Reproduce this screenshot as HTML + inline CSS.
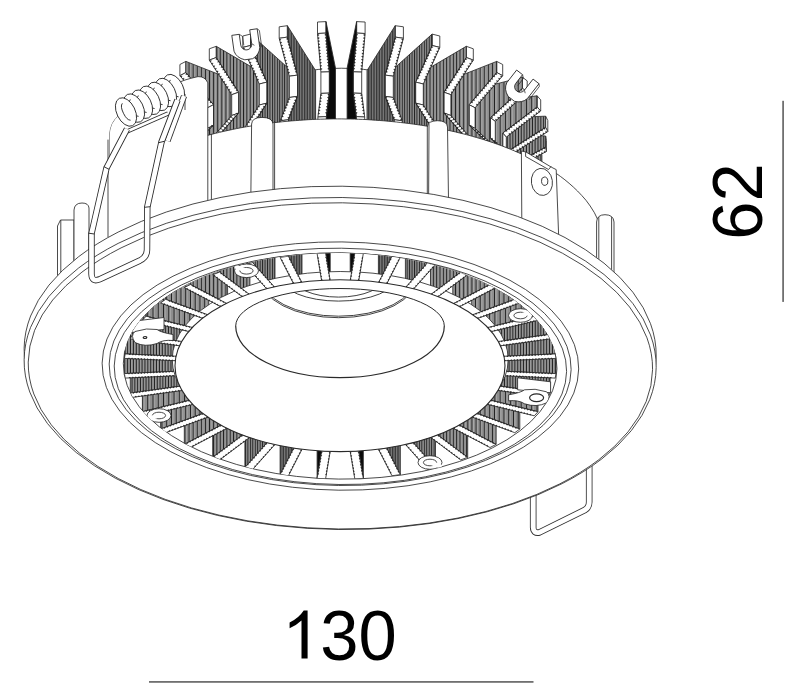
<!DOCTYPE html>
<html><head><meta charset="utf-8"><title>Downlight 130x62</title>
<style>html,body{margin:0;padding:0;background:#fff}svg{display:block}</style></head>
<body><svg width="800" height="693" viewBox="0 0 800 693" font-family="Liberation Sans, sans-serif">
<rect width="800" height="693" fill="#fff"/>
<defs>
<pattern id="h0" patternUnits="userSpaceOnUse" width="2.80" height="8"><rect width="2.80" height="8" fill="#8e8e8e"/><rect x="1.05" width="0.70" height="8" fill="#b2b2b2"/><rect width="1.05" height="8" fill="#202020"/></pattern>
<pattern id="h1" patternUnits="userSpaceOnUse" width="2.89" height="8"><rect width="2.89" height="8" fill="#8e8e8e"/><rect x="1.05" width="0.74" height="8" fill="#b2b2b2"/><rect width="1.05" height="8" fill="#202020"/></pattern>
<pattern id="h2" patternUnits="userSpaceOnUse" width="5.26" height="8"><rect width="5.26" height="8" fill="#8e8e8e"/><rect x="1.05" width="1.30" height="8" fill="#b2b2b2"/><rect width="1.05" height="8" fill="#202020"/></pattern>
<pattern id="h3" patternUnits="userSpaceOnUse" width="4.75" height="8"><rect width="4.75" height="8" fill="#8e8e8e"/><rect x="1.05" width="1.30" height="8" fill="#b2b2b2"/><rect width="1.05" height="8" fill="#202020"/></pattern>
<pattern id="h4" patternUnits="userSpaceOnUse" width="4.10" height="8"><rect width="4.10" height="8" fill="#8e8e8e"/><rect x="1.05" width="1.22" height="8" fill="#b2b2b2"/><rect width="1.05" height="8" fill="#202020"/></pattern>
<pattern id="h5" patternUnits="userSpaceOnUse" width="3.33" height="8"><rect width="3.33" height="8" fill="#8e8e8e"/><rect x="1.05" width="0.91" height="8" fill="#b2b2b2"/><rect width="1.05" height="8" fill="#202020"/></pattern>
<pattern id="h6" patternUnits="userSpaceOnUse" width="2.45" height="8"><rect width="2.45" height="8" fill="#8e8e8e"/><rect x="1.05" width="0.56" height="8" fill="#b2b2b2"/><rect width="1.05" height="8" fill="#202020"/></pattern>
<pattern id="h7" patternUnits="userSpaceOnUse" width="1.60" height="8"><rect width="1.60" height="8" fill="#808080"/><rect width="0.67" height="8" fill="#202020"/></pattern>
<clipPath id="apert"><ellipse cx="340.15" cy="366.05" rx="216.85" ry="113.05" transform="rotate(0.7 340.15 366.05)"/></clipPath>
<clipPath id="gclip"><ellipse cx="340.00" cy="365.70" rx="164.70" ry="85.60"/></clipPath>
<clipPath id="hclip"><path d="M235.7 326 A104.3 37.5 0 0 1 444.3 326 A104.3 51.7 0 0 1 235.7 326Z"/></clipPath>
</defs>
<g id="heatsink">
<path d="M226.3 200 L226.3 128.3 A115.0 60.1 0 0 1 456.3 128.3 L456.3 200Z" fill="#fff" stroke="none"/>
<path d="M226.3 128.3 A115.0 60.1 0 0 1 456.3 128.3" fill="none" stroke="#2a2a2a" stroke-width="0.85"/>
<path d="M534.6 183.4 L501.2 196.3 L499.0 200.6 L532.4 187.7Z" fill="#fff" stroke="#2a2a2a" stroke-width="0.85" stroke-linejoin="round" />
<path d="M453.5 151.2 L534.6 172.4 L534.6 183.4 L501.2 196.3 L501.2 216.8 L531.2 255.7 L531.2 288.1 L453.5 277.2Z" fill="url(#h0)" stroke="#2a2a2a" stroke-width="0.85" stroke-linejoin="round" />
<path d="M533.9 183.7 L533.7 185.4 L532.4 184.3ZM531.0 184.8 L530.8 186.5 L529.6 185.4ZM528.1 186.0 L527.9 187.6 L526.7 186.5ZM525.2 187.1 L525.0 188.7 L523.8 187.6ZM522.3 188.2 L522.1 189.9 L520.9 188.7ZM519.4 189.3 L519.2 191.0 L518.0 189.9ZM516.5 190.4 L516.4 192.1 L515.1 191.0ZM513.6 191.5 L513.5 193.2 L512.2 192.1ZM510.8 192.6 L510.6 194.3 L509.3 193.2ZM507.9 193.8 L507.7 195.4 L506.4 194.3ZM505.0 194.9 L504.8 196.6 L503.5 195.4Z" fill="#222" stroke="#222" stroke-width="0.4"/>
<path d="M531.7 188.0 L530.4 186.9 L530.2 188.6ZM528.8 189.1 L527.5 188.0 L527.4 189.7ZM525.9 190.2 L524.6 189.1 L524.5 190.8ZM523.0 191.4 L521.8 190.2 L521.6 191.9ZM520.1 192.5 L518.9 191.4 L518.7 193.0ZM517.2 193.6 L516.0 192.5 L515.8 194.2ZM514.3 194.7 L513.1 193.6 L512.9 195.3ZM511.4 195.8 L510.2 194.7 L510.0 196.4ZM508.6 196.9 L507.3 195.8 L507.1 197.5ZM505.7 198.1 L504.4 196.9 L504.2 198.6ZM502.8 199.2 L501.5 198.0 L501.3 199.7Z" fill="#222" stroke="#222" stroke-width="0.4"/>
<path d="M541.9 165.6 L507.0 181.6 L506.3 186.0 L541.2 170.0Z" fill="#fff" stroke="#2a2a2a" stroke-width="0.85" stroke-linejoin="round" />
<path d="M456.2 140.8 L541.9 154.6 L541.9 165.6 L507.0 181.6 L507.0 202.0 L538.3 238.2 L538.3 270.5 L456.2 266.8Z" fill="url(#h1)" stroke="#2a2a2a" stroke-width="0.85" stroke-linejoin="round" />
<path d="M541.2 165.9 L541.1 167.6 L539.8 166.6ZM538.4 167.2 L538.3 168.9 L537.0 167.9ZM535.6 168.5 L535.5 170.2 L534.2 169.2ZM532.7 169.8 L532.7 171.5 L531.3 170.5ZM529.9 171.1 L529.9 172.8 L528.5 171.7ZM527.1 172.4 L527.0 174.1 L525.7 173.0ZM524.3 173.7 L524.2 175.4 L522.9 174.3ZM521.5 175.0 L521.4 176.7 L520.1 175.6ZM518.7 176.3 L518.6 178.0 L517.3 176.9ZM515.8 177.6 L515.8 179.2 L514.4 178.2ZM513.0 178.9 L512.9 180.5 L511.6 179.5ZM510.2 180.1 L510.1 181.8 L508.8 180.8Z" fill="#222" stroke="#222" stroke-width="0.4"/>
<path d="M540.5 170.4 L539.1 169.3 L539.1 171.0ZM537.6 171.6 L536.3 170.6 L536.2 172.3ZM534.8 172.9 L533.5 171.9 L533.4 173.6ZM532.0 174.2 L530.7 173.2 L530.6 174.9ZM529.2 175.5 L527.9 174.5 L527.8 176.2ZM526.4 176.8 L525.0 175.8 L525.0 177.5ZM523.6 178.1 L522.2 177.1 L522.1 178.8ZM520.7 179.4 L519.4 178.4 L519.3 180.0ZM517.9 180.7 L516.6 179.7 L516.5 181.3ZM515.1 182.0 L513.8 180.9 L513.7 182.6ZM512.3 183.3 L511.0 182.2 L510.9 183.9ZM509.5 184.6 L508.1 183.5 L508.1 185.2Z" fill="#222" stroke="#222" stroke-width="0.4"/>
<path d="M545.6 136.0 L545.6 147.1 L546.4 151.5 L546.4 140.5Z" fill="#fff" stroke="#2a2a2a" stroke-width="0.85" stroke-linejoin="round" />
<path d="M545.6 147.1 L510.0 166.3 L510.7 170.7 L546.4 151.5Z" fill="#fff" stroke="#2a2a2a" stroke-width="0.85" stroke-linejoin="round" />
<path d="M510.0 166.3 L510.0 186.7 L510.7 191.2 L510.7 170.7Z" fill="#fff" stroke="#2a2a2a" stroke-width="0.85" stroke-linejoin="round" />
<path d="M542.0 220.0 L542.0 252.3 L542.7 256.8 L542.7 224.4Z" fill="#fff" stroke="#2a2a2a" stroke-width="0.85" stroke-linejoin="round" />
<path d="M455.5 130.3 L545.6 136.0 L545.6 147.1 L510.0 166.3 L510.0 186.7 L542.0 220.0 L542.0 252.3 L455.5 256.3Z" fill="url(#h1)" stroke="#2a2a2a" stroke-width="0.85" stroke-linejoin="round" />
<path d="M545.0 147.4 L545.0 149.1 L543.6 148.2ZM542.2 148.9 L542.3 150.6 L540.9 149.7ZM539.5 150.4 L539.5 152.1 L538.1 151.1ZM536.8 151.9 L536.8 153.5 L535.4 152.6ZM534.1 153.3 L534.1 155.0 L532.7 154.1ZM531.3 154.8 L531.4 156.5 L530.0 155.5ZM528.6 156.3 L528.6 158.0 L527.2 157.0ZM525.9 157.7 L525.9 159.4 L524.5 158.5ZM523.1 159.2 L523.2 160.9 L521.8 159.9ZM520.4 160.7 L520.4 162.4 L519.0 161.4ZM517.7 162.2 L517.7 163.8 L516.3 162.9ZM514.9 163.6 L515.0 165.3 L513.6 164.4ZM512.2 165.1 L512.3 166.8 L510.9 165.8Z" fill="#222" stroke="#222" stroke-width="0.4"/>
<path d="M545.7 151.9 L544.3 150.9 L544.3 152.6ZM543.0 153.3 L541.6 152.4 L541.6 154.1ZM540.2 154.8 L538.9 153.9 L538.9 155.5ZM537.5 156.3 L536.1 155.3 L536.2 157.0ZM534.8 157.8 L533.4 156.8 L533.4 158.5ZM532.1 159.2 L530.7 158.3 L530.7 160.0ZM529.3 160.7 L527.9 159.7 L528.0 161.4ZM526.6 162.2 L525.2 161.2 L525.2 162.9ZM523.9 163.6 L522.5 162.7 L522.5 164.4ZM521.1 165.1 L519.8 164.2 L519.8 165.8ZM518.4 166.6 L517.0 165.6 L517.1 167.3ZM515.7 168.1 L514.3 167.1 L514.3 168.8ZM513.0 169.5 L511.6 168.6 L511.6 170.3Z" fill="#222" stroke="#222" stroke-width="0.4"/>
<path d="M545.6 116.2 L545.6 127.3 L547.8 131.6 L547.8 120.5Z" fill="#fff" stroke="#2a2a2a" stroke-width="0.85" stroke-linejoin="round" />
<path d="M545.6 127.3 L509.8 149.9 L512.0 154.2 L547.8 131.6Z" fill="#fff" stroke="#2a2a2a" stroke-width="0.85" stroke-linejoin="round" />
<path d="M509.8 149.9 L509.8 170.4 L512.0 174.7 L512.0 154.2Z" fill="#fff" stroke="#2a2a2a" stroke-width="0.85" stroke-linejoin="round" />
<path d="M541.9 201.0 L541.9 233.3 L544.1 237.6 L544.1 205.3Z" fill="#fff" stroke="#2a2a2a" stroke-width="0.85" stroke-linejoin="round" />
<path d="M451.3 119.6 L545.6 116.2 L545.6 127.3 L509.8 149.9 L509.8 170.4 L541.9 201.0 L541.9 233.3 L451.3 246.0Z" fill="url(#h0)" stroke="#2a2a2a" stroke-width="0.85" stroke-linejoin="round" />
<path d="M544.9 127.7 L545.0 129.4 L543.6 128.5ZM542.3 129.4 L542.4 131.1 L541.0 130.2ZM539.7 131.0 L539.8 132.7 L538.4 131.9ZM537.0 132.7 L537.2 134.4 L535.7 133.5ZM534.4 134.3 L534.6 136.0 L533.1 135.2ZM531.8 136.0 L532.0 137.7 L530.5 136.8ZM529.2 137.7 L529.3 139.3 L527.9 138.5ZM526.6 139.3 L526.7 141.0 L525.3 140.2ZM523.9 141.0 L524.1 142.7 L522.6 141.8ZM521.3 142.6 L521.5 144.3 L520.0 143.5ZM518.7 144.3 L518.9 146.0 L517.4 145.1ZM516.1 146.0 L516.2 147.6 L514.8 146.8ZM513.5 147.6 L513.6 149.3 L512.2 148.4Z" fill="#222" stroke="#222" stroke-width="0.4"/>
<path d="M547.1 132.0 L545.6 131.2 L545.8 132.8ZM544.5 133.7 L543.0 132.8 L543.2 134.5ZM541.9 135.3 L540.4 134.5 L540.6 136.2ZM539.2 137.0 L537.8 136.1 L537.9 137.8ZM536.6 138.6 L535.2 137.8 L535.3 139.5ZM534.0 140.3 L532.5 139.4 L532.7 141.1ZM531.4 142.0 L529.9 141.1 L530.1 142.8ZM528.8 143.6 L527.3 142.8 L527.5 144.4ZM526.1 145.3 L524.7 144.4 L524.8 146.1ZM523.5 146.9 L522.1 146.1 L522.2 147.8ZM520.9 148.6 L519.5 147.7 L519.6 149.4ZM518.3 150.2 L516.8 149.4 L517.0 151.1ZM515.7 151.9 L514.2 151.1 L514.4 152.7Z" fill="#222" stroke="#222" stroke-width="0.4"/>
<path d="M537.1 95.8 L537.1 106.9 L540.7 111.0 L540.7 99.9Z" fill="#fff" stroke="#2a2a2a" stroke-width="0.85" stroke-linejoin="round" />
<path d="M537.1 106.9 L502.7 133.0 L506.3 137.1 L540.7 111.0Z" fill="#fff" stroke="#2a2a2a" stroke-width="0.85" stroke-linejoin="round" />
<path d="M502.7 133.0 L502.7 153.6 L506.3 157.7 L506.3 137.1Z" fill="#fff" stroke="#2a2a2a" stroke-width="0.85" stroke-linejoin="round" />
<path d="M533.6 182.0 L533.6 214.4 L537.1 218.5 L537.1 186.1Z" fill="#fff" stroke="#2a2a2a" stroke-width="0.85" stroke-linejoin="round" />
<path d="M443.7 108.7 L537.1 95.8 L537.1 106.9 L502.7 133.0 L502.7 153.6 L533.6 182.0 L533.6 214.4 L443.7 236.3Z" fill="url(#h2)" stroke="#2a2a2a" stroke-width="0.85" stroke-linejoin="round" />
<path d="M536.5 107.4 L536.8 109.1 L535.2 108.4ZM534.0 109.3 L534.3 111.0 L532.8 110.2ZM531.5 111.2 L531.8 112.8 L530.3 112.1ZM529.1 113.0 L529.3 114.7 L527.8 114.0ZM526.6 114.9 L526.9 116.6 L525.3 115.8ZM524.1 116.8 L524.4 118.4 L522.9 117.7ZM521.6 118.7 L521.9 120.3 L520.4 119.6ZM519.2 120.5 L519.5 122.2 L517.9 121.5ZM516.7 122.4 L517.0 124.1 L515.5 123.3ZM514.2 124.3 L514.5 125.9 L513.0 125.2ZM511.8 126.2 L512.1 127.8 L510.5 127.1ZM509.3 128.0 L509.6 129.7 L508.1 129.0ZM506.8 129.9 L507.1 131.6 L505.6 130.8Z" fill="#222" stroke="#222" stroke-width="0.4"/>
<path d="M540.1 111.4 L538.5 110.7 L538.8 112.4ZM537.6 113.3 L536.1 112.6 L536.3 114.3ZM535.1 115.2 L533.6 114.5 L533.9 116.1ZM532.6 117.1 L531.1 116.3 L531.4 118.0ZM530.2 118.9 L528.7 118.2 L528.9 119.9ZM527.7 120.8 L526.2 120.1 L526.5 121.8ZM525.2 122.7 L523.7 122.0 L524.0 123.6ZM522.8 124.6 L521.2 123.8 L521.5 125.5ZM520.3 126.4 L518.8 125.7 L519.1 127.4ZM517.8 128.3 L516.3 127.6 L516.6 129.2ZM515.4 130.2 L513.8 129.5 L514.1 131.1ZM512.9 132.1 L511.4 131.3 L511.7 133.0ZM510.4 133.9 L508.9 133.2 L509.2 134.9Z" fill="#222" stroke="#222" stroke-width="0.4"/>
<path d="M522.4 77.2 L522.4 88.3 L527.2 92.0 L527.2 80.9Z" fill="#fff" stroke="#2a2a2a" stroke-width="0.85" stroke-linejoin="round" />
<path d="M522.4 88.3 L490.4 117.7 L495.3 121.4 L527.2 92.0Z" fill="#fff" stroke="#2a2a2a" stroke-width="0.85" stroke-linejoin="round" />
<path d="M490.4 117.7 L490.4 138.3 L495.3 142.0 L495.3 121.4Z" fill="#fff" stroke="#2a2a2a" stroke-width="0.85" stroke-linejoin="round" />
<path d="M490.4 138.3 L519.1 163.6 L524.0 167.2 L495.3 142.0Z" fill="#fff" stroke="#2a2a2a" stroke-width="0.85" stroke-linejoin="round" />
<path d="M519.1 163.6 L519.1 195.9 L524.0 199.6 L524.0 167.2Z" fill="#fff" stroke="#2a2a2a" stroke-width="0.85" stroke-linejoin="round" />
<path d="M433.1 100.1 L522.4 77.2 L522.4 88.3 L490.4 117.7 L490.4 138.3 L519.1 163.6 L519.1 195.9 L433.1 227.4Z" fill="url(#h3)" stroke="#2a2a2a" stroke-width="0.85" stroke-linejoin="round" />
<path d="M521.8 88.9 L522.2 90.5 L520.6 89.9ZM519.5 91.0 L519.9 92.6 L518.4 92.0ZM517.2 93.1 L517.7 94.7 L516.1 94.1ZM514.9 95.2 L515.4 96.8 L513.8 96.2ZM512.7 97.3 L513.1 98.9 L511.5 98.3ZM510.4 99.4 L510.8 101.0 L509.2 100.4ZM508.1 101.5 L508.5 103.1 L507.0 102.5ZM505.8 103.6 L506.3 105.2 L504.7 104.6ZM503.5 105.7 L504.0 107.3 L502.4 106.7ZM501.3 107.8 L501.7 109.4 L500.1 108.8ZM499.0 109.9 L499.4 111.5 L497.8 110.9ZM496.7 112.0 L497.1 113.6 L495.5 113.0ZM494.4 114.1 L494.9 115.7 L493.3 115.1ZM492.1 116.2 L492.6 117.8 L491.0 117.2Z" fill="#222" stroke="#222" stroke-width="0.4"/>
<path d="M526.7 92.5 L525.1 91.9 L525.5 93.6ZM524.4 94.6 L522.8 94.0 L523.2 95.7ZM522.1 96.7 L520.5 96.1 L521.0 97.8ZM519.8 98.8 L518.2 98.2 L518.7 99.9ZM517.5 100.9 L515.9 100.3 L516.4 102.0ZM515.3 103.0 L513.7 102.4 L514.1 104.1ZM513.0 105.1 L511.4 104.5 L511.8 106.2ZM510.7 107.2 L509.1 106.6 L509.5 108.3ZM508.4 109.3 L506.8 108.7 L507.3 110.4ZM506.1 111.4 L504.5 110.8 L505.0 112.5ZM503.8 113.5 L502.3 112.9 L502.7 114.6ZM501.6 115.6 L500.0 115.0 L500.4 116.6ZM499.3 117.7 L497.7 117.1 L498.1 118.7ZM497.0 119.8 L495.4 119.2 L495.9 120.8Z" fill="#222" stroke="#222" stroke-width="0.4"/>
<path d="M491.0 138.8 L492.6 138.2 L492.2 139.9ZM493.3 140.9 L494.9 140.3 L494.5 141.9ZM495.6 142.9 L497.2 142.3 L496.8 143.9ZM498.0 145.0 L499.5 144.4 L499.1 146.0ZM500.3 147.0 L501.9 146.4 L501.5 148.0ZM502.6 149.1 L504.2 148.5 L503.8 150.1ZM504.9 151.1 L506.5 150.5 L506.1 152.1ZM507.3 153.2 L508.8 152.6 L508.4 154.2ZM509.6 155.2 L511.2 154.6 L510.8 156.2ZM511.9 157.3 L513.5 156.7 L513.1 158.3ZM514.3 159.3 L515.8 158.7 L515.4 160.3ZM516.6 161.4 L518.1 160.8 L517.7 162.4Z" fill="#222" stroke="#222" stroke-width="0.4"/>
<path d="M495.9 142.5 L495.5 144.1 L497.0 143.5ZM498.2 144.5 L497.8 146.2 L499.4 145.5ZM500.5 146.6 L500.1 148.2 L501.7 147.6ZM502.8 148.6 L502.4 150.3 L504.0 149.6ZM505.2 150.7 L504.8 152.3 L506.3 151.7ZM507.5 152.7 L507.1 154.4 L508.7 153.7ZM509.8 154.8 L509.4 156.4 L511.0 155.8ZM512.1 156.8 L511.7 158.4 L513.3 157.8ZM514.5 158.9 L514.1 160.5 L515.6 159.9ZM516.8 160.9 L516.4 162.5 L518.0 161.9ZM519.1 163.0 L518.7 164.6 L520.3 164.0ZM521.5 165.0 L521.0 166.6 L522.6 166.0Z" fill="#222" stroke="#222" stroke-width="0.4"/>
<g transform="translate(518.5 88.0) rotate(38)">
<path d="M-12.5 -13 L-5 -13 L-5 -2 A5.5 5.5 0 0 0 6 -2 L6 -16 L13.5 -16 L13.5 3 Q12 10 5 13 L-3 13 Q-11 10 -12.5 3 Z" fill="#fff" stroke="#2a2a2a" stroke-width="0.85" stroke-linejoin="round"/>
<path d="M-5 -13 l3 2.5 l0 9 M6 -2 l2.5 2 M13.5 -16 l2 2 l0 17" fill="none" stroke="#2a2a2a" stroke-width="0.7"/>
</g>
<path d="M185.9 61.4 L185.9 72.5 L179.9 75.7 L179.9 64.5Z" fill="#fff" stroke="#2a2a2a" stroke-width="0.85" stroke-linejoin="round" />
<path d="M185.9 72.5 L213.5 104.7 L207.5 107.8 L179.9 75.7Z" fill="#fff" stroke="#2a2a2a" stroke-width="0.85" stroke-linejoin="round" />
<path d="M213.5 104.7 L213.5 125.3 L207.5 128.4 L207.5 107.8Z" fill="#fff" stroke="#2a2a2a" stroke-width="0.85" stroke-linejoin="round" />
<path d="M213.5 125.3 L188.7 148.5 L182.7 151.6 L207.5 128.4Z" fill="#fff" stroke="#2a2a2a" stroke-width="0.85" stroke-linejoin="round" />
<path d="M188.7 148.5 L188.7 180.8 L182.7 184.0 L182.7 151.6Z" fill="#fff" stroke="#2a2a2a" stroke-width="0.85" stroke-linejoin="round" />
<path d="M263.0 91.8 L185.9 61.4 L185.9 72.5 L213.5 104.7 L213.5 125.3 L188.7 148.5 L188.7 180.8 L263.0 219.7Z" fill="url(#h4)" stroke="#2a2a2a" stroke-width="0.85" stroke-linejoin="round" />
<path d="M186.4 73.1 L185.8 74.7 L187.4 74.3ZM188.4 75.5 L187.8 77.0 L189.4 76.6ZM190.5 77.8 L189.8 79.4 L191.5 79.0ZM192.5 80.2 L191.8 81.7 L193.5 81.3ZM194.5 82.5 L193.9 84.1 L195.5 83.7ZM196.5 84.9 L195.9 86.4 L197.5 86.0ZM198.5 87.2 L197.9 88.8 L199.5 88.4ZM200.5 89.6 L199.9 91.1 L201.6 90.8ZM202.6 91.9 L201.9 93.5 L203.6 93.1ZM204.6 94.3 L203.9 95.8 L205.6 95.5ZM206.6 96.6 L206.0 98.2 L207.6 97.8ZM208.6 99.0 L208.0 100.6 L209.6 100.2ZM210.6 101.3 L210.0 102.9 L211.6 102.5Z" fill="#222" stroke="#222" stroke-width="0.4"/>
<path d="M180.4 76.3 L182.1 75.9 L181.4 77.4ZM182.4 78.6 L184.1 78.2 L183.4 79.8ZM184.4 81.0 L186.1 80.6 L185.5 82.1ZM186.5 83.3 L188.1 82.9 L187.5 84.5ZM188.5 85.7 L190.1 85.3 L189.5 86.8ZM190.5 88.0 L192.1 87.6 L191.5 89.2ZM192.5 90.4 L194.2 90.0 L193.5 91.5ZM194.5 92.7 L196.2 92.3 L195.5 93.9ZM196.6 95.1 L198.2 94.7 L197.6 96.3ZM198.6 97.4 L200.2 97.0 L199.6 98.6ZM200.6 99.8 L202.2 99.4 L201.6 101.0ZM202.6 102.1 L204.2 101.7 L203.6 103.3ZM204.6 104.5 L206.3 104.1 L205.6 105.7Z" fill="#222" stroke="#222" stroke-width="0.4"/>
<path d="M212.9 125.8 L211.3 125.3 L211.8 126.9ZM210.7 127.9 L209.1 127.4 L209.5 129.0ZM208.4 130.1 L206.8 129.5 L207.3 131.1ZM206.1 132.2 L204.5 131.6 L205.0 133.2ZM203.9 134.3 L202.3 133.7 L202.7 135.4ZM201.6 136.4 L200.0 135.8 L200.5 137.5ZM199.3 138.5 L197.8 138.0 L198.2 139.6ZM197.1 140.6 L195.5 140.1 L195.9 141.7ZM194.8 142.8 L193.2 142.2 L193.7 143.8ZM192.6 144.9 L191.0 144.3 L191.4 145.9Z" fill="#222" stroke="#222" stroke-width="0.4"/>
<path d="M206.9 129.0 L207.4 130.6 L205.8 130.0ZM204.7 131.1 L205.1 132.7 L203.5 132.1ZM202.4 133.2 L202.8 134.8 L201.3 134.3ZM200.1 135.3 L200.6 136.9 L199.0 136.4ZM197.9 137.4 L198.3 139.1 L196.7 138.5ZM195.6 139.6 L196.1 141.2 L194.5 140.6ZM193.3 141.7 L193.8 143.3 L192.2 142.7ZM191.1 143.8 L191.5 145.4 L189.9 144.9ZM188.8 145.9 L189.3 147.5 L187.7 147.0ZM186.5 148.0 L187.0 149.7 L185.4 149.1Z" fill="#222" stroke="#222" stroke-width="0.4"/>
<path d="M496.7 61.4 L496.7 72.5 L502.7 75.7 L502.7 64.5Z" fill="#fff" stroke="#2a2a2a" stroke-width="0.85" stroke-linejoin="round" />
<path d="M496.7 72.5 L469.1 104.7 L475.1 107.8 L502.7 75.7Z" fill="#fff" stroke="#2a2a2a" stroke-width="0.85" stroke-linejoin="round" />
<path d="M469.1 104.7 L469.1 125.3 L475.1 128.4 L475.1 107.8Z" fill="#fff" stroke="#2a2a2a" stroke-width="0.85" stroke-linejoin="round" />
<path d="M469.1 125.3 L493.9 148.5 L499.9 151.6 L475.1 128.4Z" fill="#fff" stroke="#2a2a2a" stroke-width="0.85" stroke-linejoin="round" />
<path d="M493.9 148.5 L493.9 180.8 L499.9 184.0 L499.9 151.6Z" fill="#fff" stroke="#2a2a2a" stroke-width="0.85" stroke-linejoin="round" />
<path d="M419.6 91.8 L496.7 61.4 L496.7 72.5 L469.1 104.7 L469.1 125.3 L493.9 148.5 L493.9 180.8 L419.6 219.7Z" fill="url(#h4)" stroke="#2a2a2a" stroke-width="0.85" stroke-linejoin="round" />
<path d="M496.2 73.1 L496.8 74.7 L495.2 74.3ZM494.2 75.5 L494.8 77.0 L493.2 76.6ZM492.1 77.8 L492.8 79.4 L491.1 79.0ZM490.1 80.2 L490.8 81.7 L489.1 81.3ZM488.1 82.5 L488.7 84.1 L487.1 83.7ZM486.1 84.9 L486.7 86.4 L485.1 86.0ZM484.1 87.2 L484.7 88.8 L483.1 88.4ZM482.1 89.6 L482.7 91.1 L481.0 90.8ZM480.0 91.9 L480.7 93.5 L479.0 93.1ZM478.0 94.3 L478.7 95.8 L477.0 95.5ZM476.0 96.6 L476.6 98.2 L475.0 97.8ZM474.0 99.0 L474.6 100.6 L473.0 100.2ZM472.0 101.3 L472.6 102.9 L471.0 102.5Z" fill="#222" stroke="#222" stroke-width="0.4"/>
<path d="M502.2 76.3 L500.5 75.9 L501.2 77.4ZM500.2 78.6 L498.5 78.2 L499.2 79.8ZM498.2 81.0 L496.5 80.6 L497.1 82.1ZM496.1 83.3 L494.5 82.9 L495.1 84.5ZM494.1 85.7 L492.5 85.3 L493.1 86.8ZM492.1 88.0 L490.5 87.6 L491.1 89.2ZM490.1 90.4 L488.4 90.0 L489.1 91.5ZM488.1 92.7 L486.4 92.3 L487.1 93.9ZM486.0 95.1 L484.4 94.7 L485.0 96.3ZM484.0 97.4 L482.4 97.0 L483.0 98.6ZM482.0 99.8 L480.4 99.4 L481.0 101.0ZM480.0 102.1 L478.4 101.7 L479.0 103.3ZM478.0 104.5 L476.3 104.1 L477.0 105.7Z" fill="#222" stroke="#222" stroke-width="0.4"/>
<path d="M469.7 125.8 L471.3 125.3 L470.8 126.9ZM471.9 127.9 L473.5 127.4 L473.1 129.0ZM474.2 130.1 L475.8 129.5 L475.3 131.1ZM476.5 132.2 L478.1 131.6 L477.6 133.2ZM478.7 134.3 L480.3 133.7 L479.9 135.4ZM481.0 136.4 L482.6 135.8 L482.1 137.5ZM483.3 138.5 L484.8 138.0 L484.4 139.6ZM485.5 140.6 L487.1 140.1 L486.7 141.7ZM487.8 142.8 L489.4 142.2 L488.9 143.8ZM490.0 144.9 L491.6 144.3 L491.2 145.9Z" fill="#222" stroke="#222" stroke-width="0.4"/>
<path d="M475.7 129.0 L475.2 130.6 L476.8 130.0ZM477.9 131.1 L477.5 132.7 L479.1 132.1ZM480.2 133.2 L479.8 134.8 L481.3 134.3ZM482.5 135.3 L482.0 136.9 L483.6 136.4ZM484.7 137.4 L484.3 139.1 L485.9 138.5ZM487.0 139.6 L486.5 141.2 L488.1 140.6ZM489.3 141.7 L488.8 143.3 L490.4 142.7ZM491.5 143.8 L491.1 145.4 L492.7 144.9ZM493.8 145.9 L493.3 147.5 L494.9 147.0ZM496.1 148.0 L495.6 149.7 L497.2 149.1Z" fill="#222" stroke="#222" stroke-width="0.4"/>
<path d="M216.3 46.3 L216.3 57.5 L209.3 60.1 L209.3 48.8Z" fill="#fff" stroke="#2a2a2a" stroke-width="0.85" stroke-linejoin="round" />
<path d="M216.3 57.5 L238.7 92.2 L231.7 94.7 L209.3 60.1Z" fill="#fff" stroke="#2a2a2a" stroke-width="0.85" stroke-linejoin="round" />
<path d="M238.7 92.2 L238.7 113.0 L231.7 115.5 L231.7 94.7Z" fill="#fff" stroke="#2a2a2a" stroke-width="0.85" stroke-linejoin="round" />
<path d="M238.7 113.0 L218.6 135.9 L211.6 138.4 L231.7 115.5Z" fill="#fff" stroke="#2a2a2a" stroke-width="0.85" stroke-linejoin="round" />
<path d="M218.6 135.9 L218.6 168.2 L211.6 170.8 L211.6 138.4Z" fill="#fff" stroke="#2a2a2a" stroke-width="0.85" stroke-linejoin="round" />
<path d="M278.8 83.0 L216.3 46.3 L216.3 57.5 L238.7 92.2 L238.7 113.0 L218.6 135.9 L218.6 168.2 L278.8 213.2Z" fill="url(#h5)" stroke="#2a2a2a" stroke-width="0.85" stroke-linejoin="round" />
<path d="M216.7 58.2 L215.9 59.6 L217.6 59.5ZM218.4 60.8 L217.6 62.2 L219.2 62.1ZM220.1 63.4 L219.2 64.9 L220.9 64.7ZM221.8 66.0 L220.9 67.5 L222.6 67.3ZM223.4 68.6 L222.6 70.1 L224.3 69.9ZM225.1 71.2 L224.3 72.7 L226.0 72.5ZM226.8 73.8 L226.0 75.3 L227.7 75.1ZM228.5 76.4 L227.7 77.9 L229.3 77.7ZM230.2 79.0 L229.3 80.5 L231.0 80.3ZM231.9 81.6 L231.0 83.1 L232.7 82.9ZM233.5 84.2 L232.7 85.7 L234.4 85.5ZM235.2 86.8 L234.4 88.3 L236.1 88.1ZM236.9 89.4 L236.1 90.9 L237.7 90.7Z" fill="#222" stroke="#222" stroke-width="0.4"/>
<path d="M209.8 60.7 L211.4 60.6 L210.6 62.0ZM211.4 63.3 L213.1 63.2 L212.3 64.6ZM213.1 65.9 L214.8 65.8 L214.0 67.2ZM214.8 68.5 L216.5 68.4 L215.6 69.8ZM216.5 71.1 L218.2 71.0 L217.3 72.4ZM218.2 73.7 L219.8 73.6 L219.0 75.1ZM219.9 76.4 L221.5 76.2 L220.7 77.7ZM221.5 79.0 L223.2 78.8 L222.4 80.3ZM223.2 81.6 L224.9 81.4 L224.1 82.9ZM224.9 84.2 L226.6 84.0 L225.7 85.5ZM226.6 86.8 L228.3 86.6 L227.4 88.1ZM228.3 89.4 L229.9 89.2 L229.1 90.7ZM229.9 92.0 L231.6 91.8 L230.8 93.3Z" fill="#222" stroke="#222" stroke-width="0.4"/>
<path d="M238.2 113.6 L236.5 113.2 L237.1 114.7ZM236.1 115.9 L234.5 115.5 L235.1 117.1ZM234.1 118.2 L232.4 117.8 L233.0 119.4ZM232.0 120.6 L230.4 120.1 L231.0 121.7ZM230.0 122.9 L228.3 122.5 L229.0 124.1ZM227.9 125.2 L226.3 124.8 L226.9 126.4ZM225.9 127.5 L224.3 127.1 L224.9 128.7ZM223.8 129.9 L222.2 129.5 L222.8 131.0ZM221.8 132.2 L220.2 131.8 L220.8 133.4Z" fill="#222" stroke="#222" stroke-width="0.4"/>
<path d="M231.2 116.1 L231.8 117.7 L230.2 117.3ZM229.2 118.4 L229.8 120.0 L228.1 119.6ZM227.1 120.8 L227.7 122.3 L226.1 121.9ZM225.1 123.1 L225.7 124.7 L224.0 124.3ZM223.0 125.4 L223.6 127.0 L222.0 126.6ZM221.0 127.8 L221.6 129.3 L219.9 128.9ZM218.9 130.1 L219.5 131.7 L217.9 131.3ZM216.9 132.4 L217.5 134.0 L215.9 133.6ZM214.8 134.8 L215.5 136.3 L213.8 135.9Z" fill="#222" stroke="#222" stroke-width="0.4"/>
<path d="M466.3 46.3 L466.3 57.5 L473.3 60.1 L473.3 48.8Z" fill="#fff" stroke="#2a2a2a" stroke-width="0.85" stroke-linejoin="round" />
<path d="M466.3 57.5 L443.9 92.2 L450.9 94.7 L473.3 60.1Z" fill="#fff" stroke="#2a2a2a" stroke-width="0.85" stroke-linejoin="round" />
<path d="M443.9 92.2 L443.9 113.0 L450.9 115.5 L450.9 94.7Z" fill="#fff" stroke="#2a2a2a" stroke-width="0.85" stroke-linejoin="round" />
<path d="M443.9 113.0 L464.0 135.9 L471.0 138.4 L450.9 115.5Z" fill="#fff" stroke="#2a2a2a" stroke-width="0.85" stroke-linejoin="round" />
<path d="M464.0 135.9 L464.0 168.2 L471.0 170.8 L471.0 138.4Z" fill="#fff" stroke="#2a2a2a" stroke-width="0.85" stroke-linejoin="round" />
<path d="M403.8 83.0 L466.3 46.3 L466.3 57.5 L443.9 92.2 L443.9 113.0 L464.0 135.9 L464.0 168.2 L403.8 213.2Z" fill="url(#h5)" stroke="#2a2a2a" stroke-width="0.85" stroke-linejoin="round" />
<path d="M465.9 58.2 L466.7 59.6 L465.0 59.5ZM464.2 60.8 L465.0 62.2 L463.4 62.1ZM462.5 63.4 L463.4 64.9 L461.7 64.7ZM460.8 66.0 L461.7 67.5 L460.0 67.3ZM459.2 68.6 L460.0 70.1 L458.3 69.9ZM457.5 71.2 L458.3 72.7 L456.6 72.5ZM455.8 73.8 L456.6 75.3 L454.9 75.1ZM454.1 76.4 L454.9 77.9 L453.3 77.7ZM452.4 79.0 L453.3 80.5 L451.6 80.3ZM450.7 81.6 L451.6 83.1 L449.9 82.9ZM449.1 84.2 L449.9 85.7 L448.2 85.5ZM447.4 86.8 L448.2 88.3 L446.5 88.1ZM445.7 89.4 L446.5 90.9 L444.9 90.7Z" fill="#222" stroke="#222" stroke-width="0.4"/>
<path d="M472.8 60.7 L471.2 60.6 L472.0 62.0ZM471.2 63.3 L469.5 63.2 L470.3 64.6ZM469.5 65.9 L467.8 65.8 L468.6 67.2ZM467.8 68.5 L466.1 68.4 L467.0 69.8ZM466.1 71.1 L464.4 71.0 L465.3 72.4ZM464.4 73.7 L462.8 73.6 L463.6 75.1ZM462.7 76.4 L461.1 76.2 L461.9 77.7ZM461.1 79.0 L459.4 78.8 L460.2 80.3ZM459.4 81.6 L457.7 81.4 L458.5 82.9ZM457.7 84.2 L456.0 84.0 L456.9 85.5ZM456.0 86.8 L454.3 86.6 L455.2 88.1ZM454.3 89.4 L452.7 89.2 L453.5 90.7ZM452.7 92.0 L451.0 91.8 L451.8 93.3Z" fill="#222" stroke="#222" stroke-width="0.4"/>
<path d="M444.4 113.6 L446.1 113.2 L445.5 114.7ZM446.5 115.9 L448.1 115.5 L447.5 117.1ZM448.5 118.2 L450.2 117.8 L449.6 119.4ZM450.6 120.6 L452.2 120.1 L451.6 121.7ZM452.6 122.9 L454.3 122.5 L453.6 124.1ZM454.7 125.2 L456.3 124.8 L455.7 126.4ZM456.7 127.5 L458.3 127.1 L457.7 128.7ZM458.8 129.9 L460.4 129.5 L459.8 131.0ZM460.8 132.2 L462.4 131.8 L461.8 133.4Z" fill="#222" stroke="#222" stroke-width="0.4"/>
<path d="M451.4 116.1 L450.8 117.7 L452.4 117.3ZM453.4 118.4 L452.8 120.0 L454.5 119.6ZM455.5 120.8 L454.9 122.3 L456.5 121.9ZM457.5 123.1 L456.9 124.7 L458.6 124.3ZM459.6 125.4 L459.0 127.0 L460.6 126.6ZM461.6 127.8 L461.0 129.3 L462.7 128.9ZM463.7 130.1 L463.1 131.7 L464.7 131.3ZM465.7 132.4 L465.1 134.0 L466.7 133.6ZM467.8 134.8 L467.1 136.3 L468.8 135.9Z" fill="#222" stroke="#222" stroke-width="0.4"/>
<path d="M250.5 34.1 L250.5 45.5 L242.8 47.4 L242.8 36.0Z" fill="#fff" stroke="#2a2a2a" stroke-width="0.85" stroke-linejoin="round" />
<path d="M250.5 45.5 L267.0 82.1 L259.3 84.0 L242.8 47.4Z" fill="#fff" stroke="#2a2a2a" stroke-width="0.85" stroke-linejoin="round" />
<path d="M267.0 82.1 L267.0 103.1 L259.3 105.0 L259.3 84.0Z" fill="#fff" stroke="#2a2a2a" stroke-width="0.85" stroke-linejoin="round" />
<path d="M267.0 103.1 L252.2 126.2 L244.5 128.0 L259.3 105.0Z" fill="#fff" stroke="#2a2a2a" stroke-width="0.85" stroke-linejoin="round" />
<path d="M252.2 126.2 L252.2 158.5 L244.5 160.4 L244.5 128.0Z" fill="#fff" stroke="#2a2a2a" stroke-width="0.85" stroke-linejoin="round" />
<path d="M296.6 75.7 L250.5 34.1 L250.5 45.5 L267.0 82.1 L267.0 103.1 L252.2 126.2 L252.2 158.5 L296.6 208.3Z" fill="url(#h6)" stroke="#2a2a2a" stroke-width="0.85" stroke-linejoin="round" />
<path d="M250.8 46.2 L249.8 47.5 L251.4 47.6ZM252.1 49.0 L251.0 50.4 L252.7 50.4ZM253.4 51.9 L252.3 53.2 L254.0 53.3ZM254.6 54.7 L253.6 56.0 L255.3 56.1ZM255.9 57.5 L254.8 58.8 L256.5 58.9ZM257.2 60.3 L256.1 61.7 L257.8 61.7ZM258.4 63.2 L257.4 64.5 L259.1 64.6ZM259.7 66.0 L258.7 67.3 L260.4 67.4ZM261.0 68.8 L259.9 70.1 L261.6 70.2ZM262.3 71.6 L261.2 73.0 L262.9 73.1ZM263.5 74.5 L262.5 75.8 L264.2 75.9ZM264.8 77.3 L263.8 78.6 L265.4 78.7Z" fill="#222" stroke="#222" stroke-width="0.4"/>
<path d="M243.1 48.1 L244.8 48.2 L243.7 49.5ZM244.4 50.9 L246.1 51.0 L245.0 52.3ZM245.6 53.7 L247.3 53.8 L246.3 55.1ZM246.9 56.6 L248.6 56.6 L247.6 58.0ZM248.2 59.4 L249.9 59.5 L248.8 60.8ZM249.5 62.2 L251.2 62.3 L250.1 63.6ZM250.7 65.0 L252.4 65.1 L251.4 66.5ZM252.0 67.9 L253.7 68.0 L252.7 69.3ZM253.3 70.7 L255.0 70.8 L253.9 72.1ZM254.6 73.5 L256.2 73.6 L255.2 74.9ZM255.8 76.3 L257.5 76.4 L256.5 77.8ZM257.1 79.2 L258.8 79.3 L257.7 80.6Z" fill="#222" stroke="#222" stroke-width="0.4"/>
<path d="M266.5 103.8 L264.9 103.6 L265.7 105.1ZM264.9 106.4 L263.2 106.2 L264.0 107.7ZM263.2 109.0 L261.5 108.8 L262.4 110.3ZM261.5 111.6 L259.8 111.4 L260.7 112.9ZM259.9 114.2 L258.2 114.1 L259.0 115.5ZM258.2 116.8 L256.5 116.7 L257.3 118.1ZM256.5 119.4 L254.8 119.3 L255.7 120.7ZM254.8 122.0 L253.1 121.9 L254.0 123.3Z" fill="#222" stroke="#222" stroke-width="0.4"/>
<path d="M258.8 105.7 L259.7 107.1 L258.0 107.0ZM257.2 108.3 L258.0 109.7 L256.3 109.6ZM255.5 110.9 L256.3 112.3 L254.7 112.2ZM253.8 113.5 L254.7 114.9 L253.0 114.8ZM252.1 116.1 L253.0 117.6 L251.3 117.4ZM250.5 118.7 L251.3 120.2 L249.6 120.0ZM248.8 121.3 L249.6 122.8 L248.0 122.6ZM247.1 123.9 L248.0 125.4 L246.3 125.2Z" fill="#222" stroke="#222" stroke-width="0.4"/>
<g transform="translate(246.0 46.5) rotate(-8)">
<path d="M-12.5 -13 L-5 -13 L-5 -2 A5.5 5.5 0 0 0 6 -2 L6 -16 L13.5 -16 L13.5 3 Q12 10 5 13 L-3 13 Q-11 10 -12.5 3 Z" fill="#fff" stroke="#2a2a2a" stroke-width="0.85" stroke-linejoin="round"/>
<path d="M-5 -13 l3 2.5 l0 9 M6 -2 l2.5 2 M13.5 -16 l2 2 l0 17" fill="none" stroke="#2a2a2a" stroke-width="0.7"/>
</g>
<path d="M432.1 34.1 L432.1 45.5 L439.8 47.4 L439.8 36.0Z" fill="#fff" stroke="#2a2a2a" stroke-width="0.85" stroke-linejoin="round" />
<path d="M432.1 45.5 L415.6 82.1 L423.3 84.0 L439.8 47.4Z" fill="#fff" stroke="#2a2a2a" stroke-width="0.85" stroke-linejoin="round" />
<path d="M415.6 82.1 L415.6 103.1 L423.3 105.0 L423.3 84.0Z" fill="#fff" stroke="#2a2a2a" stroke-width="0.85" stroke-linejoin="round" />
<path d="M415.6 103.1 L430.4 126.2 L438.1 128.0 L423.3 105.0Z" fill="#fff" stroke="#2a2a2a" stroke-width="0.85" stroke-linejoin="round" />
<path d="M430.4 126.2 L430.4 158.5 L438.1 160.4 L438.1 128.0Z" fill="#fff" stroke="#2a2a2a" stroke-width="0.85" stroke-linejoin="round" />
<path d="M386.0 75.7 L432.1 34.1 L432.1 45.5 L415.6 82.1 L415.6 103.1 L430.4 126.2 L430.4 158.5 L386.0 208.3Z" fill="url(#h6)" stroke="#2a2a2a" stroke-width="0.85" stroke-linejoin="round" />
<path d="M431.8 46.2 L432.8 47.5 L431.2 47.6ZM430.5 49.0 L431.6 50.4 L429.9 50.4ZM429.2 51.9 L430.3 53.2 L428.6 53.3ZM428.0 54.7 L429.0 56.0 L427.3 56.1ZM426.7 57.5 L427.8 58.8 L426.1 58.9ZM425.4 60.3 L426.5 61.7 L424.8 61.7ZM424.2 63.2 L425.2 64.5 L423.5 64.6ZM422.9 66.0 L423.9 67.3 L422.2 67.4ZM421.6 68.8 L422.7 70.1 L421.0 70.2ZM420.3 71.6 L421.4 73.0 L419.7 73.1ZM419.1 74.5 L420.1 75.8 L418.4 75.9ZM417.8 77.3 L418.8 78.6 L417.2 78.7Z" fill="#222" stroke="#222" stroke-width="0.4"/>
<path d="M439.5 48.1 L437.8 48.2 L438.9 49.5ZM438.2 50.9 L436.5 51.0 L437.6 52.3ZM437.0 53.7 L435.3 53.8 L436.3 55.1ZM435.7 56.6 L434.0 56.6 L435.0 58.0ZM434.4 59.4 L432.7 59.5 L433.8 60.8ZM433.1 62.2 L431.4 62.3 L432.5 63.6ZM431.9 65.0 L430.2 65.1 L431.2 66.5ZM430.6 67.9 L428.9 68.0 L429.9 69.3ZM429.3 70.7 L427.6 70.8 L428.7 72.1ZM428.0 73.5 L426.4 73.6 L427.4 74.9ZM426.8 76.3 L425.1 76.4 L426.1 77.8ZM425.5 79.2 L423.8 79.3 L424.9 80.6Z" fill="#222" stroke="#222" stroke-width="0.4"/>
<path d="M416.1 103.8 L417.7 103.6 L416.9 105.1ZM417.7 106.4 L419.4 106.2 L418.6 107.7ZM419.4 109.0 L421.1 108.8 L420.2 110.3ZM421.1 111.6 L422.8 111.4 L421.9 112.9ZM422.7 114.2 L424.4 114.1 L423.6 115.5ZM424.4 116.8 L426.1 116.7 L425.3 118.1ZM426.1 119.4 L427.8 119.3 L426.9 120.7ZM427.8 122.0 L429.5 121.9 L428.6 123.3Z" fill="#222" stroke="#222" stroke-width="0.4"/>
<path d="M423.8 105.7 L422.9 107.1 L424.6 107.0ZM425.4 108.3 L424.6 109.7 L426.3 109.6ZM427.1 110.9 L426.3 112.3 L427.9 112.2ZM428.8 113.5 L427.9 114.9 L429.6 114.8ZM430.5 116.1 L429.6 117.6 L431.3 117.4ZM432.1 118.7 L431.3 120.2 L433.0 120.0ZM433.8 121.3 L433.0 122.8 L434.6 122.6ZM435.5 123.9 L434.6 125.4 L436.3 125.2Z" fill="#222" stroke="#222" stroke-width="0.4"/>
<path d="M287.4 25.7 L287.4 37.1 L279.2 38.3 L279.2 26.8Z" fill="#fff" stroke="#2a2a2a" stroke-width="0.85" stroke-linejoin="round" />
<path d="M287.4 37.1 L297.5 75.1 L289.3 76.2 L279.2 38.3Z" fill="#fff" stroke="#2a2a2a" stroke-width="0.85" stroke-linejoin="round" />
<path d="M297.5 75.1 L297.5 96.3 L289.3 97.5 L289.3 76.2Z" fill="#fff" stroke="#2a2a2a" stroke-width="0.85" stroke-linejoin="round" />
<path d="M297.5 96.3 L288.5 119.7 L280.3 120.8 L289.3 97.5Z" fill="#fff" stroke="#2a2a2a" stroke-width="0.85" stroke-linejoin="round" />
<path d="M288.5 119.7 L288.5 152.0 L280.3 153.2 L280.3 120.8Z" fill="#fff" stroke="#2a2a2a" stroke-width="0.85" stroke-linejoin="round" />
<path d="M315.6 70.6 L287.4 25.7 L287.4 37.1 L297.5 75.1 L297.5 96.3 L288.5 119.7 L288.5 152.0 L315.6 205.1Z" fill="url(#h7)" stroke="#2a2a2a" stroke-width="0.85" stroke-linejoin="round" />
<path d="M287.6 37.9 L286.4 39.0 L288.0 39.4ZM288.4 40.9 L287.2 42.0 L288.8 42.4ZM289.2 43.9 L288.0 45.0 L289.6 45.4ZM290.0 46.9 L288.8 48.0 L290.4 48.4ZM290.8 49.9 L289.6 51.0 L291.2 51.4ZM291.6 52.9 L290.4 54.0 L292.0 54.4ZM292.4 55.9 L291.2 57.0 L292.8 57.4ZM293.2 58.9 L292.0 60.0 L293.6 60.4ZM294.0 61.9 L292.8 63.0 L294.4 63.4ZM294.8 64.9 L293.6 66.0 L295.2 66.4ZM295.6 67.9 L294.3 69.0 L296.0 69.4ZM296.4 70.8 L295.1 72.0 L296.8 72.3Z" fill="#222" stroke="#222" stroke-width="0.4"/>
<path d="M279.4 39.0 L281.1 39.4 L279.8 40.5ZM280.2 42.0 L281.9 42.4 L280.6 43.5ZM281.0 45.0 L282.7 45.4 L281.4 46.5ZM281.8 48.0 L283.5 48.4 L282.2 49.5ZM282.6 51.0 L284.3 51.4 L283.0 52.5ZM283.4 54.0 L285.1 54.4 L283.8 55.5ZM284.2 57.0 L285.8 57.4 L284.6 58.5ZM285.0 60.0 L286.6 60.4 L285.4 61.5ZM285.8 63.0 L287.4 63.4 L286.2 64.5ZM286.6 66.0 L288.2 66.4 L287.0 67.5ZM287.4 69.0 L289.0 69.4 L287.8 70.5ZM288.2 72.0 L289.8 72.4 L288.6 73.5Z" fill="#222" stroke="#222" stroke-width="0.4"/>
<path d="M297.2 97.0 L295.6 97.2 L296.7 98.5ZM296.1 99.9 L294.4 100.1 L295.6 101.4ZM295.0 102.8 L293.3 103.0 L294.4 104.3ZM293.9 105.7 L292.2 105.9 L293.3 107.1ZM292.8 108.6 L291.1 108.8 L292.2 110.0ZM291.6 111.5 L290.0 111.7 L291.1 112.9ZM290.5 114.4 L288.8 114.6 L290.0 115.8ZM289.4 117.3 L287.7 117.4 L288.8 118.7Z" fill="#222" stroke="#222" stroke-width="0.4"/>
<path d="M289.0 98.2 L290.2 99.4 L288.5 99.6ZM287.9 101.1 L289.0 102.3 L287.4 102.5ZM286.8 104.0 L287.9 105.2 L286.2 105.4ZM285.7 106.9 L286.8 108.1 L285.1 108.3ZM284.6 109.7 L285.7 111.0 L284.0 111.2ZM283.4 112.6 L284.5 113.9 L282.9 114.1ZM282.3 115.5 L283.4 116.8 L281.7 117.0ZM281.2 118.4 L282.3 119.7 L280.6 119.9Z" fill="#222" stroke="#222" stroke-width="0.4"/>
<path d="M395.2 25.7 L395.2 37.1 L403.4 38.3 L403.4 26.8Z" fill="#fff" stroke="#2a2a2a" stroke-width="0.85" stroke-linejoin="round" />
<path d="M395.2 37.1 L385.1 75.1 L393.3 76.2 L403.4 38.3Z" fill="#fff" stroke="#2a2a2a" stroke-width="0.85" stroke-linejoin="round" />
<path d="M385.1 75.1 L385.1 96.3 L393.3 97.5 L393.3 76.2Z" fill="#fff" stroke="#2a2a2a" stroke-width="0.85" stroke-linejoin="round" />
<path d="M385.1 96.3 L394.1 119.7 L402.3 120.8 L393.3 97.5Z" fill="#fff" stroke="#2a2a2a" stroke-width="0.85" stroke-linejoin="round" />
<path d="M394.1 119.7 L394.1 152.0 L402.3 153.2 L402.3 120.8Z" fill="#fff" stroke="#2a2a2a" stroke-width="0.85" stroke-linejoin="round" />
<path d="M367.0 70.6 L395.2 25.7 L395.2 37.1 L385.1 75.1 L385.1 96.3 L394.1 119.7 L394.1 152.0 L367.0 205.1Z" fill="url(#h7)" stroke="#2a2a2a" stroke-width="0.85" stroke-linejoin="round" />
<path d="M395.0 37.9 L396.2 39.0 L394.6 39.4ZM394.2 40.9 L395.4 42.0 L393.8 42.4ZM393.4 43.9 L394.6 45.0 L393.0 45.4ZM392.6 46.9 L393.8 48.0 L392.2 48.4ZM391.8 49.9 L393.0 51.0 L391.4 51.4ZM391.0 52.9 L392.2 54.0 L390.6 54.4ZM390.2 55.9 L391.4 57.0 L389.8 57.4ZM389.4 58.9 L390.6 60.0 L389.0 60.4ZM388.6 61.9 L389.8 63.0 L388.2 63.4ZM387.8 64.9 L389.0 66.0 L387.4 66.4ZM387.0 67.9 L388.3 69.0 L386.6 69.4ZM386.2 70.8 L387.5 72.0 L385.8 72.3Z" fill="#222" stroke="#222" stroke-width="0.4"/>
<path d="M403.2 39.0 L401.5 39.4 L402.8 40.5ZM402.4 42.0 L400.7 42.4 L402.0 43.5ZM401.6 45.0 L399.9 45.4 L401.2 46.5ZM400.8 48.0 L399.1 48.4 L400.4 49.5ZM400.0 51.0 L398.3 51.4 L399.6 52.5ZM399.2 54.0 L397.5 54.4 L398.8 55.5ZM398.4 57.0 L396.8 57.4 L398.0 58.5ZM397.6 60.0 L396.0 60.4 L397.2 61.5ZM396.8 63.0 L395.2 63.4 L396.4 64.5ZM396.0 66.0 L394.4 66.4 L395.6 67.5ZM395.2 69.0 L393.6 69.4 L394.8 70.5ZM394.4 72.0 L392.8 72.4 L394.0 73.5Z" fill="#222" stroke="#222" stroke-width="0.4"/>
<path d="M385.4 97.0 L387.0 97.2 L385.9 98.5ZM386.5 99.9 L388.2 100.1 L387.0 101.4ZM387.6 102.8 L389.3 103.0 L388.2 104.3ZM388.7 105.7 L390.4 105.9 L389.3 107.1ZM389.8 108.6 L391.5 108.8 L390.4 110.0ZM391.0 111.5 L392.6 111.7 L391.5 112.9ZM392.1 114.4 L393.8 114.6 L392.6 115.8ZM393.2 117.3 L394.9 117.4 L393.8 118.7Z" fill="#222" stroke="#222" stroke-width="0.4"/>
<path d="M393.6 98.2 L392.4 99.4 L394.1 99.6ZM394.7 101.1 L393.6 102.3 L395.2 102.5ZM395.8 104.0 L394.7 105.2 L396.4 105.4ZM396.9 106.9 L395.8 108.1 L397.5 108.3ZM398.0 109.7 L396.9 111.0 L398.6 111.2ZM399.2 112.6 L398.1 113.9 L399.7 114.1ZM400.3 115.5 L399.2 116.8 L400.9 117.0ZM401.4 118.4 L400.3 119.7 L402.0 119.9Z" fill="#222" stroke="#222" stroke-width="0.4"/>
<path d="M326.0 21.6 L326.0 33.1 L317.5 33.5 L317.5 22.0Z" fill="#fff" stroke="#2a2a2a" stroke-width="0.85" stroke-linejoin="round" />
<path d="M326.0 33.1 L329.4 71.8 L320.9 72.1 L317.5 33.5Z" fill="#fff" stroke="#2a2a2a" stroke-width="0.85" stroke-linejoin="round" />
<path d="M329.4 71.8 L329.4 93.1 L320.9 93.4 L320.9 72.1Z" fill="#fff" stroke="#2a2a2a" stroke-width="0.85" stroke-linejoin="round" />
<path d="M329.4 93.1 L326.4 116.6 L317.9 117.0 L320.9 93.4Z" fill="#fff" stroke="#2a2a2a" stroke-width="0.85" stroke-linejoin="round" />
<path d="M326.4 116.6 L326.4 148.9 L317.9 149.3 L317.9 117.0Z" fill="#fff" stroke="#2a2a2a" stroke-width="0.85" stroke-linejoin="round" />
<path d="M335.5 68.2 L326.0 21.6 L326.0 33.1 L329.4 71.8 L329.4 93.1 L326.4 116.6 L326.4 148.9 L335.5 203.7Z" fill="#0a0a0a" stroke="#2a2a2a" stroke-width="0.85" stroke-linejoin="round" />
<path d="M326.1 33.9 L324.7 34.8 L326.2 35.4ZM326.4 37.0 L324.9 37.9 L326.5 38.5ZM326.6 40.1 L325.2 41.0 L326.8 41.6ZM326.9 43.2 L325.5 44.1 L327.0 44.7ZM327.2 46.2 L325.7 47.1 L327.3 47.8ZM327.4 49.3 L326.0 50.2 L327.6 50.9ZM327.7 52.4 L326.3 53.3 L327.8 54.0ZM328.0 55.5 L326.6 56.4 L328.1 57.1ZM328.3 58.6 L326.8 59.5 L328.4 60.1ZM328.5 61.7 L327.1 62.6 L328.7 63.2ZM328.8 64.8 L327.4 65.7 L328.9 66.3ZM329.1 67.9 L327.6 68.8 L329.2 69.4Z" fill="#222" stroke="#222" stroke-width="0.4"/>
<path d="M317.6 34.3 L319.2 34.9 L317.7 35.8ZM317.9 37.4 L319.4 38.0 L318.0 38.9ZM318.2 40.5 L319.7 41.1 L318.3 42.0ZM318.4 43.5 L320.0 44.2 L318.6 45.1ZM318.7 46.6 L320.3 47.3 L318.8 48.2ZM319.0 49.7 L320.5 50.4 L319.1 51.3ZM319.2 52.8 L320.8 53.4 L319.4 54.4ZM319.5 55.9 L321.1 56.5 L319.6 57.4ZM319.8 59.0 L321.3 59.6 L319.9 60.5ZM320.1 62.1 L321.6 62.7 L320.2 63.6ZM320.3 65.2 L321.9 65.8 L320.5 66.7ZM320.6 68.2 L322.2 68.9 L320.7 69.8Z" fill="#222" stroke="#222" stroke-width="0.4"/>
<path d="M329.3 93.8 L327.7 94.4 L329.1 95.4ZM328.9 96.9 L327.3 97.5 L328.7 98.4ZM328.5 100.0 L326.9 100.5 L328.3 101.5ZM328.1 103.0 L326.5 103.6 L327.9 104.6ZM327.7 106.1 L326.1 106.7 L327.5 107.7ZM327.3 109.2 L325.7 109.8 L327.1 110.7ZM326.9 112.3 L325.3 112.8 L326.7 113.8Z" fill="#222" stroke="#222" stroke-width="0.4"/>
<path d="M320.8 94.2 L322.2 95.2 L320.6 95.7ZM320.4 97.3 L321.8 98.2 L320.2 98.8ZM320.0 100.4 L321.4 101.3 L319.8 101.9ZM319.6 103.4 L321.0 104.4 L319.4 105.0ZM319.2 106.5 L320.6 107.5 L319.0 108.0ZM318.8 109.6 L320.2 110.5 L318.6 111.1ZM318.4 112.7 L319.8 113.6 L318.3 114.2Z" fill="#222" stroke="#222" stroke-width="0.4"/>
<path d="M356.6 21.6 L356.6 33.1 L365.1 33.5 L365.1 22.0Z" fill="#fff" stroke="#2a2a2a" stroke-width="0.85" stroke-linejoin="round" />
<path d="M356.6 33.1 L353.2 71.8 L361.7 72.1 L365.1 33.5Z" fill="#fff" stroke="#2a2a2a" stroke-width="0.85" stroke-linejoin="round" />
<path d="M353.2 71.8 L353.2 93.1 L361.7 93.4 L361.7 72.1Z" fill="#fff" stroke="#2a2a2a" stroke-width="0.85" stroke-linejoin="round" />
<path d="M353.2 93.1 L356.2 116.6 L364.7 117.0 L361.7 93.4Z" fill="#fff" stroke="#2a2a2a" stroke-width="0.85" stroke-linejoin="round" />
<path d="M356.2 116.6 L356.2 148.9 L364.7 149.3 L364.7 117.0Z" fill="#fff" stroke="#2a2a2a" stroke-width="0.85" stroke-linejoin="round" />
<path d="M347.1 68.2 L356.6 21.6 L356.6 33.1 L353.2 71.8 L353.2 93.1 L356.2 116.6 L356.2 148.9 L347.1 203.7Z" fill="#0a0a0a" stroke="#2a2a2a" stroke-width="0.85" stroke-linejoin="round" />
<path d="M356.5 33.9 L357.9 34.8 L356.4 35.4ZM356.2 37.0 L357.7 37.9 L356.1 38.5ZM356.0 40.1 L357.4 41.0 L355.8 41.6ZM355.7 43.2 L357.1 44.1 L355.6 44.7ZM355.4 46.2 L356.9 47.1 L355.3 47.8ZM355.2 49.3 L356.6 50.2 L355.0 50.9ZM354.9 52.4 L356.3 53.3 L354.8 54.0ZM354.6 55.5 L356.0 56.4 L354.5 57.1ZM354.3 58.6 L355.8 59.5 L354.2 60.1ZM354.1 61.7 L355.5 62.6 L353.9 63.2ZM353.8 64.8 L355.2 65.7 L353.7 66.3ZM353.5 67.9 L355.0 68.8 L353.4 69.4Z" fill="#222" stroke="#222" stroke-width="0.4"/>
<path d="M365.0 34.3 L363.4 34.9 L364.9 35.8ZM364.7 37.4 L363.2 38.0 L364.6 38.9ZM364.4 40.5 L362.9 41.1 L364.3 42.0ZM364.2 43.5 L362.6 44.2 L364.0 45.1ZM363.9 46.6 L362.3 47.3 L363.8 48.2ZM363.6 49.7 L362.1 50.4 L363.5 51.3ZM363.4 52.8 L361.8 53.4 L363.2 54.4ZM363.1 55.9 L361.5 56.5 L363.0 57.4ZM362.8 59.0 L361.3 59.6 L362.7 60.5ZM362.5 62.1 L361.0 62.7 L362.4 63.6ZM362.3 65.2 L360.7 65.8 L362.1 66.7ZM362.0 68.2 L360.4 68.9 L361.9 69.8Z" fill="#222" stroke="#222" stroke-width="0.4"/>
<path d="M353.3 93.8 L354.9 94.4 L353.5 95.4ZM353.7 96.9 L355.3 97.5 L353.9 98.4ZM354.1 100.0 L355.7 100.5 L354.3 101.5ZM354.5 103.0 L356.1 103.6 L354.7 104.6ZM354.9 106.1 L356.5 106.7 L355.1 107.7ZM355.3 109.2 L356.9 109.8 L355.5 110.7ZM355.7 112.3 L357.3 112.8 L355.9 113.8Z" fill="#222" stroke="#222" stroke-width="0.4"/>
<path d="M361.8 94.2 L360.4 95.2 L362.0 95.7ZM362.2 97.3 L360.8 98.2 L362.4 98.8ZM362.6 100.4 L361.2 101.3 L362.8 101.9ZM363.0 103.4 L361.6 104.4 L363.2 105.0ZM363.4 106.5 L362.0 107.5 L363.6 108.0ZM363.8 109.6 L362.4 110.5 L364.0 111.1ZM364.2 112.7 L362.8 113.6 L364.3 114.2Z" fill="#222" stroke="#222" stroke-width="0.4"/>
</g>
<path d="M186.0 330.0 L186.0 141.9 L190.2 140.5 L194.4 139.2 L198.6 137.9 L202.8 136.7 L207.1 135.5 L211.3 134.4 L215.5 133.3 L219.7 132.3 L223.9 131.3 L228.1 130.4 L232.3 129.5 L236.5 128.6 L240.7 127.8 L244.9 127.0 L249.2 126.3 L253.4 125.6 L257.6 124.9 L261.8 124.3 L266.0 123.7 L270.2 123.2 L274.4 122.6 L278.6 122.2 L282.8 121.7 L287.0 121.3 L291.2 120.9 L295.5 120.6 L299.7 120.3 L303.9 120.0 L308.1 119.7 L312.3 119.5 L316.5 119.3 L320.7 119.2 L324.9 119.1 L329.1 119.0 L333.4 118.9 L337.6 118.9 L341.8 118.9 L346.0 119.0 L350.2 119.0 L354.4 119.1 L358.6 119.3 L362.8 119.4 L367.0 119.6 L371.2 119.9 L375.4 120.2 L379.7 120.5 L383.9 120.8 L388.1 121.2 L392.3 121.6 L396.5 122.0 L400.7 122.5 L404.9 123.0 L409.1 123.5 L413.3 124.1 L417.6 124.7 L421.8 125.3 L426.0 126.0 L430.2 126.8 L434.4 127.5 L438.6 128.3 L442.8 129.2 L447.0 130.0 L451.2 131.0 L455.4 131.9 L459.6 133.0 L463.9 134.0 L468.1 135.1 L472.3 136.3 L476.5 137.5 L480.7 138.7 L484.9 140.0 L489.1 141.4 L493.3 142.8 L497.5 144.3 L501.8 145.8 L506.0 147.5 L510.2 149.1 L514.4 150.9 L518.6 152.7 L522.8 154.6 L527.0 156.6 L531.2 158.7 L535.4 160.9 L539.6 163.2 L543.9 165.6 L548.1 168.1 L552.3 170.8 L556.5 173.6 L560.7 176.6 L564.9 179.8 L569.1 183.3 L573.3 187.0 L577.5 191.0 L581.7 195.4 L586.0 200.3 L590.2 206.0 L594.4 212.7 L598.6 221.4 L602.8 236.4 L607.0 245.7 L607.0 330.0Z" fill="#fff" stroke="#2a2a2a" stroke-width="0.85" stroke-linejoin="round" />
<path d="M250.8 200 L251.6 124 Q252 117.4 262 117.4 Q272.5 117.4 273 124 L273 200" fill="#fff" stroke="#2a2a2a" stroke-width="0.85"/>
<path d="M274.6 121.5 L274.6 200.0" fill="none" stroke="#2a2a2a" stroke-width="0.85" stroke-linejoin="round" stroke-linecap="round" />
<path d="M427.3 200 L427.3 127 Q428 120.7 437.5 120.7 Q447 120.7 447.5 127 L448.5 200" fill="#fff" stroke="#2a2a2a" stroke-width="0.85"/>
<path d="M429.0 124.5 L428.6 200.0" fill="none" stroke="#2a2a2a" stroke-width="0.85" stroke-linejoin="round" stroke-linecap="round" />
<path d="M521.4 151.0 L526.0 152.0 L551.6 167.3 L556.2 169.6 L558.8 240.0 L521.8 222.0Z" fill="#fff" stroke="#2a2a2a" stroke-width="0.85" stroke-linejoin="round" />
<path d="M525.6 152.5 L525.6 156.5 L548.5 169.5 L551.0 166.6" fill="none" stroke="#2a2a2a" stroke-width="0.85" stroke-linejoin="round" stroke-linecap="round" />
<ellipse cx="541.90" cy="181.90" rx="10.50" ry="13.60" fill="#fff" stroke="#2a2a2a" stroke-width="0.85" transform="rotate(-8 541.9 181.9)" />
<ellipse cx="544.70" cy="181.20" rx="3.20" ry="4.20" fill="none" stroke="#2a2a2a" stroke-width="0.85" transform="rotate(-8 544.7 181.2)" />
<path d="M596.6 282 L596.6 222 Q597 214.7 605 214.7 Q613.5 214.7 614 222 L614 275" fill="#fff" stroke="#2a2a2a" stroke-width="0.85"/>
<path d="M598.8 217.5 L598.8 282.0" fill="none" stroke="#2a2a2a" stroke-width="0.85" stroke-linejoin="round" stroke-linecap="round" />
<path d="M611.6 217.5 L611.6 292.0" fill="none" stroke="#2a2a2a" stroke-width="0.85" stroke-linejoin="round" stroke-linecap="round" />
<path d="M57.5 292 L57.5 226 L60.5 220 L74 220 L74 292" fill="#fff" stroke="#2a2a2a" stroke-width="0.85"/>
<path d="M60.8 220.5 L60.8 292.0" fill="none" stroke="#2a2a2a" stroke-width="0.85" stroke-linejoin="round" stroke-linecap="round" />
<path d="M74 292 L74 210 Q74.5 203 82 203 Q88.5 203 89 208 L89 292" fill="#fff" stroke="#2a2a2a" stroke-width="0.85"/>
<path d="M108.0 140.0 L108.0 237.0" fill="none" stroke="#2a2a2a" stroke-width="0.85" stroke-linejoin="round" stroke-linecap="round" />
<path d="M109.6 160 L109.6 135 Q110.5 122 119 115.5" fill="none" stroke="#2a2a2a" stroke-width="0.85"/>
<path d="M109.6 260 L109.6 135 Q110.5 122 119 115.5 L186 90 L186 260 Z" fill="#fff" stroke="none"/>
<path d="M185 230 L185 94 L177 94 L177 83.6 Q182.3 80 198 76.6 Q205 76.3 207.8 82.8 L207.8 230 Z" fill="#fff" stroke="none"/>
<path d="M185 110 L185 94 L177 94 L177 83.6 Q182.3 80 198 76.6 Q205 76.3 207.8 82.8 L207.8 230" fill="none" stroke="#2a2a2a" stroke-width="0.85"/>
<path d="M211.4 134.3 L211.4 205.0" fill="none" stroke="#2a2a2a" stroke-width="0.85" stroke-linejoin="round" stroke-linecap="round" />
<path d="M127 131.5 L168 113.5" fill="none" stroke="#2a2a2a" stroke-width="4.20" stroke-linecap="butt" stroke-linejoin="round" />
<path d="M127 131.5 L168 113.5" fill="none" stroke="#fff" stroke-width="2.50" stroke-linecap="butt" stroke-linejoin="round" />
<g transform="rotate(-26.0 174.0 88.6)">
<ellipse cx="174.00" cy="88.60" rx="9.20" ry="15.20" fill="#fff" stroke="#2a2a2a" stroke-width="0.85" />
<path d="M174.5 79.2 A4.2 9.6 0 0 0 174.5 98.0" fill="none" stroke="#2a2a2a" stroke-width="0.85"/>
</g>
<g transform="rotate(-26.0 166.0 92.5)">
<ellipse cx="166.00" cy="92.50" rx="9.20" ry="15.20" fill="#fff" stroke="#2a2a2a" stroke-width="0.85" />
<path d="M166.5 83.1 A4.2 9.6 0 0 0 166.5 101.9" fill="none" stroke="#2a2a2a" stroke-width="0.85"/>
</g>
<g transform="rotate(-26.0 158.0 96.4)">
<ellipse cx="158.00" cy="96.40" rx="9.20" ry="15.20" fill="#fff" stroke="#2a2a2a" stroke-width="0.85" />
<path d="M158.5 87.0 A4.2 9.6 0 0 0 158.5 105.8" fill="none" stroke="#2a2a2a" stroke-width="0.85"/>
</g>
<g transform="rotate(-26.0 150.0 100.3)">
<ellipse cx="150.00" cy="100.30" rx="9.20" ry="15.20" fill="#fff" stroke="#2a2a2a" stroke-width="0.85" />
<path d="M150.5 90.9 A4.2 9.6 0 0 0 150.5 109.7" fill="none" stroke="#2a2a2a" stroke-width="0.85"/>
</g>
<g transform="rotate(-26.0 142.0 104.2)">
<ellipse cx="142.00" cy="104.20" rx="9.20" ry="15.20" fill="#fff" stroke="#2a2a2a" stroke-width="0.85" />
<path d="M142.5 94.8 A4.2 9.6 0 0 0 142.5 113.6" fill="none" stroke="#2a2a2a" stroke-width="0.85"/>
</g>
<g transform="rotate(-26.0 134.0 108.1)">
<ellipse cx="134.00" cy="108.10" rx="9.20" ry="15.20" fill="#fff" stroke="#2a2a2a" stroke-width="0.85" />
<path d="M134.5 98.7 A4.2 9.6 0 0 0 134.5 117.5" fill="none" stroke="#2a2a2a" stroke-width="0.85"/>
</g>
<g transform="rotate(-26.0 126.0 112.0)">
<ellipse cx="126.00" cy="112.00" rx="9.20" ry="15.20" fill="#fff" stroke="#2a2a2a" stroke-width="0.85" />
<path d="M126.5 102.6 A4.2 9.6 0 0 0 126.5 121.4" fill="none" stroke="#2a2a2a" stroke-width="0.85"/>
</g>
<path d="M533.2 480 L533.2 527.5 Q533.4 533.6 539.5 532.4 L584.8 510 Q589.2 507.6 589.2 502 L589.2 455" fill="none" stroke="#333" stroke-width="6.60" stroke-linecap="butt" stroke-linejoin="round" />
<path d="M533.2 480 L533.2 527.5 Q533.4 533.6 539.5 532.4 L584.8 510 Q589.2 507.6 589.2 502 L589.2 455" fill="none" stroke="#fff" stroke-width="4.90" stroke-linecap="butt" stroke-linejoin="round" />
<ellipse cx="340.15" cy="352.20" rx="316.05" ry="166.00" fill="#fff" stroke="#2a2a2a" stroke-width="0.85" transform="rotate(0.7 340.15 352.2)" />
<ellipse cx="340.15" cy="363.50" rx="316.05" ry="166.00" fill="#fff" stroke="#2a2a2a" stroke-width="0.85" transform="rotate(0.7 340.15 363.5)" />
<ellipse cx="340.40" cy="365.90" rx="312.20" ry="163.10" fill="none" stroke="#2a2a2a" stroke-width="0.85" transform="rotate(0.7 340.4 365.9)" />
<ellipse cx="340.40" cy="366.05" rx="238.30" ry="124.15" fill="#fff" stroke="#2a2a2a" stroke-width="0.85" transform="rotate(0.7 340.4 366.05)" />
<ellipse cx="340.15" cy="366.85" rx="231.00" ry="118.65" fill="none" stroke="#2a2a2a" stroke-width="0.85" transform="rotate(0.7 340.15 366.85)" />
<ellipse cx="340.40" cy="368.75" rx="226.20" ry="115.75" fill="none" stroke="#2a2a2a" stroke-width="0.85" transform="rotate(0.7 340.4 368.75)" />
<ellipse cx="340.15" cy="366.05" rx="216.85" ry="113.05" fill="#fff" stroke="#2a2a2a" stroke-width="0.85" transform="rotate(0.7 340.15 366.05)" />
<g clip-path="url(#apert)">
<path d="M358.7 451.0 L363.3 478.4 L363.3 397.5 L358.7 370.0Z" fill="#0a0a0a" stroke="#2a2a2a" stroke-width="0.85" stroke-linejoin="round" />
<path d="M321.7 451.0 L317.1 478.4 L317.1 397.5 L321.7 370.0Z" fill="#0a0a0a" stroke="#2a2a2a" stroke-width="0.85" stroke-linejoin="round" />
<path d="M293.7 448.0 L280.1 474.6 L280.1 393.7 L293.7 367.1Z" fill="url(#h7)" stroke="#2a2a2a" stroke-width="0.85" stroke-linejoin="round" />
<path d="M386.7 448.0 L400.3 474.6 L400.3 393.7 L386.7 367.1Z" fill="url(#h7)" stroke="#2a2a2a" stroke-width="0.85" stroke-linejoin="round" />
<path d="M267.2 442.5 L244.9 467.5 L244.9 386.6 L267.2 361.6Z" fill="url(#h6)" stroke="#2a2a2a" stroke-width="0.85" stroke-linejoin="round" />
<path d="M413.2 442.5 L435.5 467.5 L435.5 386.6 L413.2 361.6Z" fill="url(#h6)" stroke="#2a2a2a" stroke-width="0.85" stroke-linejoin="round" />
<path d="M437.5 434.8 L467.7 457.3 L467.7 376.4 L437.5 353.8Z" fill="url(#h5)" stroke="#2a2a2a" stroke-width="0.85" stroke-linejoin="round" />
<path d="M242.9 434.8 L212.7 457.3 L212.7 376.4 L242.9 353.8Z" fill="url(#h5)" stroke="#2a2a2a" stroke-width="0.85" stroke-linejoin="round" />
<path d="M221.5 424.9 L184.3 444.4 L184.3 363.4 L221.5 343.9Z" fill="url(#h4)" stroke="#2a2a2a" stroke-width="0.85" stroke-linejoin="round" />
<path d="M458.9 424.9 L496.1 444.4 L496.1 363.4 L458.9 343.9Z" fill="url(#h4)" stroke="#2a2a2a" stroke-width="0.85" stroke-linejoin="round" />
<path d="M203.8 413.2 L160.6 429.0 L160.6 348.1 L203.8 332.3Z" fill="url(#h3)" stroke="#2a2a2a" stroke-width="0.85" stroke-linejoin="round" />
<path d="M476.6 413.2 L519.8 429.0 L519.8 348.1 L476.6 332.3Z" fill="url(#h3)" stroke="#2a2a2a" stroke-width="0.85" stroke-linejoin="round" />
<path d="M490.2 400.1 L538.0 411.7 L538.0 330.8 L490.2 319.2Z" fill="url(#h2)" stroke="#2a2a2a" stroke-width="0.85" stroke-linejoin="round" />
<path d="M190.2 400.1 L142.4 411.7 L142.4 330.8 L190.2 319.2Z" fill="url(#h2)" stroke="#2a2a2a" stroke-width="0.85" stroke-linejoin="round" />
<path d="M499.2 386.0 L550.1 393.1 L550.1 312.2 L499.2 305.0Z" fill="url(#h0)" stroke="#2a2a2a" stroke-width="0.85" stroke-linejoin="round" />
<path d="M181.2 386.0 L130.3 393.1 L130.3 312.2 L181.2 305.0Z" fill="url(#h0)" stroke="#2a2a2a" stroke-width="0.85" stroke-linejoin="round" />
<path d="M176.9 371.2 L124.4 373.6 L124.4 292.7 L176.9 290.3Z" fill="url(#h1)" stroke="#2a2a2a" stroke-width="0.85" stroke-linejoin="round" />
<path d="M503.5 371.2 L556.0 373.6 L556.0 292.7 L503.5 290.3Z" fill="url(#h1)" stroke="#2a2a2a" stroke-width="0.85" stroke-linejoin="round" />
<path d="M358.7 451.0 L363.3 478.4 L354.8 478.8 L350.2 451.4Z" fill="#fff" stroke="#2a2a2a" stroke-width="0.85" stroke-linejoin="round" />
<path d="M358.9 451.8 L358.1 452.7 L359.1 453.3ZM359.4 454.8 L358.6 455.7 L359.6 456.3ZM359.9 457.9 L359.1 458.8 L360.1 459.4ZM360.4 460.9 L359.6 461.8 L360.7 462.5ZM360.9 464.0 L360.1 464.9 L361.2 465.5ZM361.4 467.0 L360.7 468.0 L361.7 468.6ZM361.9 470.1 L361.2 471.0 L362.2 471.6ZM362.4 473.2 L361.7 474.1 L362.7 474.7Z" fill="#222" stroke="#222" stroke-width="0.4"/>
<path d="M350.3 452.1 L351.3 452.8 L350.5 453.7ZM350.8 455.2 L351.8 455.8 L351.1 456.7ZM351.3 458.3 L352.3 458.9 L351.6 459.8ZM351.8 461.3 L352.8 461.9 L352.1 462.8ZM352.3 464.4 L353.4 465.0 L352.6 465.9ZM352.9 467.4 L353.9 468.0 L353.1 469.0ZM353.4 470.5 L354.4 471.1 L353.6 472.0ZM353.9 473.5 L354.9 474.2 L354.1 475.1Z" fill="#222" stroke="#222" stroke-width="0.4"/>
<path d="M321.7 451.0 L317.1 478.4 L325.6 478.8 L330.2 451.4Z" fill="#fff" stroke="#2a2a2a" stroke-width="0.85" stroke-linejoin="round" />
<path d="M321.5 451.8 L322.3 452.7 L321.3 453.3ZM321.0 454.8 L321.8 455.7 L320.8 456.3ZM320.5 457.9 L321.3 458.8 L320.3 459.4ZM320.0 460.9 L320.8 461.8 L319.7 462.5ZM319.5 464.0 L320.3 464.9 L319.2 465.5ZM319.0 467.0 L319.7 468.0 L318.7 468.6ZM318.5 470.1 L319.2 471.0 L318.2 471.6ZM318.0 473.2 L318.7 474.1 L317.7 474.7Z" fill="#222" stroke="#222" stroke-width="0.4"/>
<path d="M330.1 452.1 L329.1 452.8 L329.9 453.7ZM329.6 455.2 L328.6 455.8 L329.3 456.7ZM329.1 458.3 L328.1 458.9 L328.8 459.8ZM328.6 461.3 L327.6 461.9 L328.3 462.8ZM328.1 464.4 L327.0 465.0 L327.8 465.9ZM327.5 467.4 L326.5 468.0 L327.3 469.0ZM327.0 470.5 L326.0 471.1 L326.8 472.0ZM326.5 473.5 L325.5 474.2 L326.3 475.1Z" fill="#222" stroke="#222" stroke-width="0.4"/>
<path d="M293.7 448.0 L280.1 474.6 L288.4 475.8 L302.0 449.2Z" fill="#fff" stroke="#2a2a2a" stroke-width="0.85" stroke-linejoin="round" />
<path d="M293.4 448.7 L293.8 449.8 L292.7 450.1ZM292.0 451.5 L292.4 452.6 L291.3 452.8ZM290.5 454.2 L291.0 455.3 L289.8 455.6ZM289.1 457.0 L289.6 458.1 L288.4 458.4ZM287.7 459.7 L288.2 460.8 L287.0 461.1ZM286.3 462.5 L286.8 463.6 L285.6 463.9ZM284.9 465.3 L285.3 466.4 L284.2 466.6ZM283.5 468.0 L283.9 469.1 L282.8 469.4ZM282.1 470.8 L282.5 471.9 L281.4 472.2Z" fill="#222" stroke="#222" stroke-width="0.4"/>
<path d="M301.7 449.9 L300.5 450.1 L301.0 451.2ZM300.3 452.6 L299.1 452.9 L299.6 454.0ZM298.9 455.4 L297.7 455.7 L298.1 456.8ZM297.4 458.1 L296.3 458.4 L296.7 459.5ZM296.0 460.9 L294.9 461.2 L295.3 462.3ZM294.6 463.7 L293.5 463.9 L293.9 465.0ZM293.2 466.4 L292.0 466.7 L292.5 467.8ZM291.8 469.2 L290.6 469.5 L291.1 470.6ZM290.4 471.9 L289.2 472.2 L289.7 473.3Z" fill="#222" stroke="#222" stroke-width="0.4"/>
<path d="M386.7 448.0 L400.3 474.6 L392.0 475.8 L378.4 449.2Z" fill="#fff" stroke="#2a2a2a" stroke-width="0.85" stroke-linejoin="round" />
<path d="M387.0 448.7 L386.6 449.8 L387.7 450.1ZM388.4 451.5 L388.0 452.6 L389.1 452.8ZM389.9 454.2 L389.4 455.3 L390.6 455.6ZM391.3 457.0 L390.8 458.1 L392.0 458.4ZM392.7 459.7 L392.2 460.8 L393.4 461.1ZM394.1 462.5 L393.6 463.6 L394.8 463.9ZM395.5 465.3 L395.1 466.4 L396.2 466.6ZM396.9 468.0 L396.5 469.1 L397.6 469.4ZM398.3 470.8 L397.9 471.9 L399.0 472.2Z" fill="#222" stroke="#222" stroke-width="0.4"/>
<path d="M378.7 449.9 L379.9 450.1 L379.4 451.2ZM380.1 452.6 L381.3 452.9 L380.8 454.0ZM381.5 455.4 L382.7 455.7 L382.3 456.8ZM383.0 458.1 L384.1 458.4 L383.7 459.5ZM384.4 460.9 L385.5 461.2 L385.1 462.3ZM385.8 463.7 L386.9 463.9 L386.5 465.0ZM387.2 466.4 L388.4 466.7 L387.9 467.8ZM388.6 469.2 L389.8 469.5 L389.3 470.6ZM390.0 471.9 L391.2 472.2 L390.7 473.3Z" fill="#222" stroke="#222" stroke-width="0.4"/>
<path d="M267.2 442.5 L244.9 467.5 L252.7 469.4 L275.0 444.4Z" fill="#fff" stroke="#2a2a2a" stroke-width="0.85" stroke-linejoin="round" />
<path d="M266.7 443.1 L266.8 444.3 L265.7 444.3ZM264.6 445.4 L264.8 446.6 L263.6 446.6ZM262.6 447.8 L262.7 448.9 L261.5 448.9ZM260.5 450.1 L260.7 451.2 L259.5 451.2ZM258.4 452.4 L258.6 453.6 L257.4 453.5ZM256.4 454.7 L256.5 455.9 L255.3 455.9ZM254.3 457.0 L254.5 458.2 L253.3 458.2ZM252.2 459.3 L252.4 460.5 L251.2 460.5ZM250.2 461.6 L250.3 462.8 L249.2 462.8ZM248.1 464.0 L248.3 465.1 L247.1 465.1Z" fill="#222" stroke="#222" stroke-width="0.4"/>
<path d="M274.5 445.0 L273.3 445.0 L273.5 446.2ZM272.4 447.3 L271.2 447.3 L271.4 448.5ZM270.4 449.7 L269.2 449.6 L269.3 450.8ZM268.3 452.0 L267.1 451.9 L267.3 453.1ZM266.2 454.3 L265.0 454.3 L265.2 455.4ZM264.2 456.6 L263.0 456.6 L263.1 457.8ZM262.1 458.9 L260.9 458.9 L261.1 460.1ZM260.0 461.2 L258.9 461.2 L259.0 462.4ZM258.0 463.5 L256.8 463.5 L256.9 464.7ZM255.9 465.9 L254.7 465.8 L254.9 467.0Z" fill="#222" stroke="#222" stroke-width="0.4"/>
<path d="M413.2 442.5 L435.5 467.5 L427.7 469.4 L405.4 444.4Z" fill="#fff" stroke="#2a2a2a" stroke-width="0.85" stroke-linejoin="round" />
<path d="M413.7 443.1 L413.6 444.3 L414.7 444.3ZM415.8 445.4 L415.6 446.6 L416.8 446.6ZM417.8 447.8 L417.7 448.9 L418.9 448.9ZM419.9 450.1 L419.7 451.2 L420.9 451.2ZM422.0 452.4 L421.8 453.6 L423.0 453.5ZM424.0 454.7 L423.9 455.9 L425.1 455.9ZM426.1 457.0 L425.9 458.2 L427.1 458.2ZM428.2 459.3 L428.0 460.5 L429.2 460.5ZM430.2 461.6 L430.1 462.8 L431.2 462.8ZM432.3 464.0 L432.1 465.1 L433.3 465.1Z" fill="#222" stroke="#222" stroke-width="0.4"/>
<path d="M405.9 445.0 L407.1 445.0 L406.9 446.2ZM408.0 447.3 L409.2 447.3 L409.0 448.5ZM410.0 449.7 L411.2 449.6 L411.1 450.8ZM412.1 452.0 L413.3 451.9 L413.1 453.1ZM414.2 454.3 L415.4 454.3 L415.2 455.4ZM416.2 456.6 L417.4 456.6 L417.3 457.8ZM418.3 458.9 L419.5 458.9 L419.3 460.1ZM420.4 461.2 L421.5 461.2 L421.4 462.4ZM422.4 463.5 L423.6 463.5 L423.5 464.7ZM424.5 465.9 L425.7 465.8 L425.5 467.0Z" fill="#222" stroke="#222" stroke-width="0.4"/>
<path d="M437.5 434.8 L467.7 457.3 L460.7 459.9 L430.5 437.3Z" fill="#fff" stroke="#2a2a2a" stroke-width="0.85" stroke-linejoin="round" />
<path d="M438.1 435.2 L438.2 436.4 L439.4 436.1ZM440.6 437.1 L440.7 438.3 L441.8 438.0ZM443.1 438.9 L443.2 440.1 L444.3 439.9ZM445.6 440.8 L445.7 442.0 L446.8 441.7ZM448.1 442.6 L448.1 443.8 L449.3 443.6ZM450.5 444.5 L450.6 445.7 L451.8 445.4ZM453.0 446.4 L453.1 447.5 L454.3 447.3ZM455.5 448.2 L455.6 449.4 L456.8 449.1ZM458.0 450.1 L458.1 451.2 L459.2 451.0ZM460.5 451.9 L460.6 453.1 L461.7 452.8ZM463.0 453.8 L463.0 455.0 L464.2 454.7ZM465.4 455.6 L465.5 456.8 L466.7 456.6Z" fill="#222" stroke="#222" stroke-width="0.4"/>
<path d="M431.1 437.8 L432.2 437.5 L432.3 438.7ZM433.6 439.7 L434.7 439.4 L434.8 440.6ZM436.0 441.5 L437.2 441.3 L437.3 442.4ZM438.5 443.4 L439.7 443.1 L439.8 444.3ZM441.0 445.2 L442.2 445.0 L442.3 446.1ZM443.5 447.1 L444.7 446.8 L444.7 448.0ZM446.0 448.9 L447.1 448.7 L447.2 449.9ZM448.5 450.8 L449.6 450.5 L449.7 451.7ZM450.9 452.6 L452.1 452.4 L452.2 453.6ZM453.4 454.5 L454.6 454.2 L454.7 455.4ZM455.9 456.4 L457.1 456.1 L457.2 457.3ZM458.4 458.2 L459.6 457.9 L459.6 459.1Z" fill="#222" stroke="#222" stroke-width="0.4"/>
<path d="M242.9 434.8 L212.7 457.3 L219.7 459.9 L249.9 437.3Z" fill="#fff" stroke="#2a2a2a" stroke-width="0.85" stroke-linejoin="round" />
<path d="M242.3 435.2 L242.2 436.4 L241.0 436.1ZM239.8 437.1 L239.7 438.3 L238.6 438.0ZM237.3 438.9 L237.2 440.1 L236.1 439.9ZM234.8 440.8 L234.7 442.0 L233.6 441.7ZM232.3 442.6 L232.3 443.8 L231.1 443.6ZM229.9 444.5 L229.8 445.7 L228.6 445.4ZM227.4 446.4 L227.3 447.5 L226.1 447.3ZM224.9 448.2 L224.8 449.4 L223.6 449.1ZM222.4 450.1 L222.3 451.2 L221.2 451.0ZM219.9 451.9 L219.8 453.1 L218.7 452.8ZM217.4 453.8 L217.4 455.0 L216.2 454.7ZM215.0 455.6 L214.9 456.8 L213.7 456.6Z" fill="#222" stroke="#222" stroke-width="0.4"/>
<path d="M249.3 437.8 L248.2 437.5 L248.1 438.7ZM246.8 439.7 L245.7 439.4 L245.6 440.6ZM244.4 441.5 L243.2 441.3 L243.1 442.4ZM241.9 443.4 L240.7 443.1 L240.6 444.3ZM239.4 445.2 L238.2 445.0 L238.1 446.1ZM236.9 447.1 L235.7 446.8 L235.7 448.0ZM234.4 448.9 L233.3 448.7 L233.2 449.9ZM231.9 450.8 L230.8 450.5 L230.7 451.7ZM229.5 452.6 L228.3 452.4 L228.2 453.6ZM227.0 454.5 L225.8 454.2 L225.7 455.4ZM224.5 456.4 L223.3 456.1 L223.2 457.3ZM222.0 458.2 L220.8 457.9 L220.8 459.1Z" fill="#222" stroke="#222" stroke-width="0.4"/>
<path d="M221.5 424.9 L184.3 444.4 L190.4 447.5 L227.6 428.1Z" fill="#fff" stroke="#2a2a2a" stroke-width="0.85" stroke-linejoin="round" />
<path d="M220.9 425.2 L220.6 426.4 L219.5 426.0ZM218.1 426.7 L217.8 427.8 L216.7 427.4ZM215.4 428.1 L215.1 429.3 L214.0 428.8ZM212.6 429.5 L212.4 430.7 L211.2 430.3ZM209.9 431.0 L209.6 432.1 L208.5 431.7ZM207.1 432.4 L206.9 433.6 L205.8 433.1ZM204.4 433.9 L204.1 435.0 L203.0 434.6ZM201.6 435.3 L201.4 436.4 L200.3 436.0ZM198.9 436.7 L198.6 437.9 L197.5 437.4ZM196.1 438.2 L195.9 439.3 L194.8 438.9ZM193.4 439.6 L193.1 440.8 L192.0 440.3ZM190.6 441.0 L190.4 442.2 L189.3 441.8ZM187.9 442.5 L187.6 443.6 L186.5 443.2Z" fill="#222" stroke="#222" stroke-width="0.4"/>
<path d="M226.9 428.4 L225.8 428.0 L225.6 429.1ZM224.2 429.9 L223.1 429.4 L222.8 430.6ZM221.4 431.3 L220.3 430.8 L220.1 432.0ZM218.7 432.7 L217.6 432.3 L217.3 433.4ZM216.0 434.2 L214.9 433.7 L214.6 434.9ZM213.2 435.6 L212.1 435.2 L211.8 436.3ZM210.5 437.0 L209.4 436.6 L209.1 437.8ZM207.7 438.5 L206.6 438.0 L206.3 439.2ZM205.0 439.9 L203.9 439.5 L203.6 440.6ZM202.2 441.3 L201.1 440.9 L200.8 442.1ZM199.5 442.8 L198.4 442.3 L198.1 443.5ZM196.7 444.2 L195.6 443.8 L195.4 444.9ZM194.0 445.7 L192.9 445.2 L192.6 446.4Z" fill="#222" stroke="#222" stroke-width="0.4"/>
<path d="M458.9 424.9 L496.1 444.4 L490.0 447.5 L452.8 428.1Z" fill="#fff" stroke="#2a2a2a" stroke-width="0.85" stroke-linejoin="round" />
<path d="M459.5 425.2 L459.8 426.4 L460.9 426.0ZM462.3 426.7 L462.6 427.8 L463.7 427.4ZM465.0 428.1 L465.3 429.3 L466.4 428.8ZM467.8 429.5 L468.0 430.7 L469.2 430.3ZM470.5 431.0 L470.8 432.1 L471.9 431.7ZM473.3 432.4 L473.5 433.6 L474.6 433.1ZM476.0 433.9 L476.3 435.0 L477.4 434.6ZM478.8 435.3 L479.0 436.4 L480.1 436.0ZM481.5 436.7 L481.8 437.9 L482.9 437.4ZM484.3 438.2 L484.5 439.3 L485.6 438.9ZM487.0 439.6 L487.3 440.8 L488.4 440.3ZM489.8 441.0 L490.0 442.2 L491.1 441.8ZM492.5 442.5 L492.8 443.6 L493.9 443.2Z" fill="#222" stroke="#222" stroke-width="0.4"/>
<path d="M453.5 428.4 L454.6 428.0 L454.8 429.1ZM456.2 429.9 L457.3 429.4 L457.6 430.6ZM459.0 431.3 L460.1 430.8 L460.3 432.0ZM461.7 432.7 L462.8 432.3 L463.1 433.4ZM464.4 434.2 L465.5 433.7 L465.8 434.9ZM467.2 435.6 L468.3 435.2 L468.6 436.3ZM469.9 437.0 L471.0 436.6 L471.3 437.8ZM472.7 438.5 L473.8 438.0 L474.1 439.2ZM475.4 439.9 L476.5 439.5 L476.8 440.6ZM478.2 441.3 L479.3 440.9 L479.6 442.1ZM480.9 442.8 L482.0 442.3 L482.3 443.5ZM483.7 444.2 L484.8 443.8 L485.0 444.9ZM486.4 445.7 L487.5 445.2 L487.8 446.4Z" fill="#222" stroke="#222" stroke-width="0.4"/>
<path d="M203.8 413.2 L160.6 429.0 L165.6 432.7 L208.7 416.9Z" fill="#fff" stroke="#2a2a2a" stroke-width="0.85" stroke-linejoin="round" />
<path d="M203.1 413.5 L202.7 414.6 L201.6 414.0ZM200.2 414.5 L199.7 415.6 L198.7 415.1ZM197.3 415.6 L196.8 416.7 L195.8 416.1ZM194.3 416.7 L193.9 417.8 L192.9 417.2ZM191.4 417.7 L191.0 418.8 L190.0 418.3ZM188.5 418.8 L188.1 419.9 L187.1 419.3ZM185.6 419.9 L185.2 421.0 L184.2 420.4ZM182.7 420.9 L182.3 422.0 L181.2 421.5ZM179.8 422.0 L179.4 423.1 L178.3 422.5ZM176.9 423.1 L176.5 424.2 L175.4 423.6ZM174.0 424.1 L173.5 425.2 L172.5 424.7ZM171.1 425.2 L170.6 426.3 L169.6 425.7ZM168.1 426.3 L167.7 427.4 L166.7 426.8ZM165.2 427.3 L164.8 428.4 L163.8 427.9Z" fill="#222" stroke="#222" stroke-width="0.4"/>
<path d="M208.0 417.2 L207.0 416.6 L206.6 417.7ZM205.1 418.2 L204.1 417.6 L203.6 418.8ZM202.2 419.3 L201.1 418.7 L200.7 419.8ZM199.3 420.4 L198.2 419.8 L197.8 420.9ZM196.4 421.4 L195.3 420.8 L194.9 422.0ZM193.5 422.5 L192.4 421.9 L192.0 423.0ZM190.5 423.6 L189.5 423.0 L189.1 424.1ZM187.6 424.6 L186.6 424.0 L186.2 425.2ZM184.7 425.7 L183.7 425.1 L183.3 426.2ZM181.8 426.7 L180.8 426.2 L180.4 427.3ZM178.9 427.8 L177.9 427.2 L177.4 428.3ZM176.0 428.9 L174.9 428.3 L174.5 429.4ZM173.1 429.9 L172.0 429.4 L171.6 430.5ZM170.2 431.0 L169.1 430.4 L168.7 431.5Z" fill="#222" stroke="#222" stroke-width="0.4"/>
<path d="M476.6 413.2 L519.8 429.0 L514.8 432.7 L471.7 416.9Z" fill="#fff" stroke="#2a2a2a" stroke-width="0.85" stroke-linejoin="round" />
<path d="M477.3 413.5 L477.7 414.6 L478.8 414.0ZM480.2 414.5 L480.7 415.6 L481.7 415.1ZM483.1 415.6 L483.6 416.7 L484.6 416.1ZM486.1 416.7 L486.5 417.8 L487.5 417.2ZM489.0 417.7 L489.4 418.8 L490.4 418.3ZM491.9 418.8 L492.3 419.9 L493.3 419.3ZM494.8 419.9 L495.2 421.0 L496.2 420.4ZM497.7 420.9 L498.1 422.0 L499.2 421.5ZM500.6 422.0 L501.0 423.1 L502.1 422.5ZM503.5 423.1 L503.9 424.2 L505.0 423.6ZM506.4 424.1 L506.9 425.2 L507.9 424.7ZM509.3 425.2 L509.8 426.3 L510.8 425.7ZM512.3 426.3 L512.7 427.4 L513.7 426.8ZM515.2 427.3 L515.6 428.4 L516.6 427.9Z" fill="#222" stroke="#222" stroke-width="0.4"/>
<path d="M472.4 417.2 L473.4 416.6 L473.8 417.7ZM475.3 418.2 L476.3 417.6 L476.8 418.8ZM478.2 419.3 L479.3 418.7 L479.7 419.8ZM481.1 420.4 L482.2 419.8 L482.6 420.9ZM484.0 421.4 L485.1 420.8 L485.5 422.0ZM486.9 422.5 L488.0 421.9 L488.4 423.0ZM489.9 423.6 L490.9 423.0 L491.3 424.1ZM492.8 424.6 L493.8 424.0 L494.2 425.2ZM495.7 425.7 L496.7 425.1 L497.1 426.2ZM498.6 426.7 L499.6 426.2 L500.0 427.3ZM501.5 427.8 L502.5 427.2 L503.0 428.3ZM504.4 428.9 L505.5 428.3 L505.9 429.4ZM507.3 429.9 L508.4 429.4 L508.8 430.5ZM510.2 431.0 L511.3 430.4 L511.7 431.5Z" fill="#222" stroke="#222" stroke-width="0.4"/>
<path d="M490.2 400.1 L538.0 411.7 L534.3 415.8 L486.6 404.2Z" fill="#fff" stroke="#2a2a2a" stroke-width="0.85" stroke-linejoin="round" />
<path d="M491.0 400.3 L491.5 401.3 L492.5 400.7ZM494.0 401.0 L494.5 402.1 L495.5 401.4ZM497.0 401.8 L497.5 402.8 L498.5 402.1ZM500.0 402.5 L500.5 403.5 L501.5 402.9ZM503.0 403.2 L503.5 404.3 L504.5 403.6ZM506.0 404.0 L506.5 405.0 L507.5 404.3ZM509.0 404.7 L509.6 405.7 L510.5 405.1ZM512.0 405.4 L512.6 406.5 L513.5 405.8ZM515.0 406.2 L515.6 407.2 L516.6 406.5ZM518.1 406.9 L518.6 408.0 L519.6 407.3ZM521.1 407.6 L521.6 408.7 L522.6 408.0ZM524.1 408.4 L524.6 409.4 L525.6 408.7ZM527.1 409.1 L527.6 410.2 L528.6 409.5ZM530.1 409.8 L530.6 410.9 L531.6 410.2ZM533.1 410.6 L533.7 411.6 L534.6 410.9Z" fill="#222" stroke="#222" stroke-width="0.4"/>
<path d="M487.3 404.4 L488.3 403.7 L488.8 404.7ZM490.3 405.1 L491.3 404.4 L491.8 405.5ZM493.3 405.8 L494.3 405.1 L494.8 406.2ZM496.4 406.6 L497.3 405.9 L497.9 406.9ZM499.4 407.3 L500.3 406.6 L500.9 407.7ZM502.4 408.0 L503.3 407.3 L503.9 408.4ZM505.4 408.8 L506.4 408.1 L506.9 409.1ZM508.4 409.5 L509.4 408.8 L509.9 409.9ZM511.4 410.2 L512.4 409.5 L512.9 410.6ZM514.4 411.0 L515.4 410.3 L515.9 411.3ZM517.4 411.7 L518.4 411.0 L518.9 412.1ZM520.4 412.4 L521.4 411.7 L522.0 412.8ZM523.5 413.2 L524.4 412.5 L525.0 413.5ZM526.5 413.9 L527.4 413.2 L528.0 414.3ZM529.5 414.6 L530.4 414.0 L531.0 415.0Z" fill="#222" stroke="#222" stroke-width="0.4"/>
<path d="M190.2 400.1 L142.4 411.7 L146.1 415.8 L193.8 404.2Z" fill="#fff" stroke="#2a2a2a" stroke-width="0.85" stroke-linejoin="round" />
<path d="M189.4 400.3 L188.9 401.3 L187.9 400.7ZM186.4 401.0 L185.9 402.1 L184.9 401.4ZM183.4 401.8 L182.9 402.8 L181.9 402.1ZM180.4 402.5 L179.9 403.5 L178.9 402.9ZM177.4 403.2 L176.9 404.3 L175.9 403.6ZM174.4 404.0 L173.9 405.0 L172.9 404.3ZM171.4 404.7 L170.8 405.7 L169.9 405.1ZM168.4 405.4 L167.8 406.5 L166.9 405.8ZM165.4 406.2 L164.8 407.2 L163.8 406.5ZM162.3 406.9 L161.8 408.0 L160.8 407.3ZM159.3 407.6 L158.8 408.7 L157.8 408.0ZM156.3 408.4 L155.8 409.4 L154.8 408.7ZM153.3 409.1 L152.8 410.2 L151.8 409.5ZM150.3 409.8 L149.8 410.9 L148.8 410.2ZM147.3 410.6 L146.7 411.6 L145.8 410.9Z" fill="#222" stroke="#222" stroke-width="0.4"/>
<path d="M193.1 404.4 L192.1 403.7 L191.6 404.7ZM190.1 405.1 L189.1 404.4 L188.6 405.5ZM187.1 405.8 L186.1 405.1 L185.6 406.2ZM184.0 406.6 L183.1 405.9 L182.5 406.9ZM181.0 407.3 L180.1 406.6 L179.5 407.7ZM178.0 408.0 L177.1 407.3 L176.5 408.4ZM175.0 408.8 L174.0 408.1 L173.5 409.1ZM172.0 409.5 L171.0 408.8 L170.5 409.9ZM169.0 410.2 L168.0 409.5 L167.5 410.6ZM166.0 411.0 L165.0 410.3 L164.5 411.3ZM163.0 411.7 L162.0 411.0 L161.5 412.1ZM160.0 412.4 L159.0 411.7 L158.4 412.8ZM156.9 413.2 L156.0 412.5 L155.4 413.5ZM153.9 413.9 L153.0 413.2 L152.4 414.3ZM150.9 414.6 L150.0 414.0 L149.4 415.0Z" fill="#222" stroke="#222" stroke-width="0.4"/>
<path d="M499.2 386.0 L550.1 393.1 L547.9 397.4 L497.0 390.3Z" fill="#fff" stroke="#2a2a2a" stroke-width="0.85" stroke-linejoin="round" />
<path d="M500.0 386.1 L500.7 387.1 L501.5 386.3ZM503.1 386.5 L503.7 387.5 L504.6 386.7ZM506.1 386.9 L506.8 387.9 L507.7 387.1ZM509.2 387.4 L509.9 388.4 L510.8 387.6ZM512.3 387.8 L512.9 388.8 L513.8 388.0ZM515.4 388.2 L516.0 389.2 L516.9 388.4ZM518.4 388.6 L519.1 389.6 L520.0 388.9ZM521.5 389.1 L522.1 390.1 L523.0 389.3ZM524.6 389.5 L525.2 390.5 L526.1 389.7ZM527.6 389.9 L528.3 390.9 L529.2 390.2ZM530.7 390.4 L531.4 391.4 L532.2 390.6ZM533.8 390.8 L534.4 391.8 L535.3 391.0ZM536.8 391.2 L537.5 392.2 L538.4 391.4ZM539.9 391.7 L540.6 392.7 L541.5 391.9ZM543.0 392.1 L543.6 393.1 L544.5 392.3ZM546.1 392.5 L546.7 393.5 L547.6 392.7Z" fill="#222" stroke="#222" stroke-width="0.4"/>
<path d="M497.8 390.4 L498.7 389.6 L499.3 390.6ZM500.9 390.8 L501.7 390.1 L502.4 391.1ZM503.9 391.3 L504.8 390.5 L505.5 391.5ZM507.0 391.7 L507.9 390.9 L508.5 391.9ZM510.1 392.1 L511.0 391.3 L511.6 392.3ZM513.1 392.6 L514.0 391.8 L514.7 392.8ZM516.2 393.0 L517.1 392.2 L517.7 393.2ZM519.3 393.4 L520.2 392.6 L520.8 393.6ZM522.3 393.9 L523.2 393.1 L523.9 394.1ZM525.4 394.3 L526.3 393.5 L526.9 394.5ZM528.5 394.7 L529.4 393.9 L530.0 394.9ZM531.6 395.1 L532.4 394.4 L533.1 395.4ZM534.6 395.6 L535.5 394.8 L536.2 395.8ZM537.7 396.0 L538.6 395.2 L539.2 396.2ZM540.8 396.4 L541.7 395.7 L542.3 396.6ZM543.8 396.9 L544.7 396.1 L545.4 397.1Z" fill="#222" stroke="#222" stroke-width="0.4"/>
<path d="M181.2 386.0 L130.3 393.1 L132.5 397.4 L183.4 390.3Z" fill="#fff" stroke="#2a2a2a" stroke-width="0.85" stroke-linejoin="round" />
<path d="M180.4 386.1 L179.7 387.1 L178.9 386.3ZM177.3 386.5 L176.7 387.5 L175.8 386.7ZM174.3 386.9 L173.6 387.9 L172.7 387.1ZM171.2 387.4 L170.5 388.4 L169.6 387.6ZM168.1 387.8 L167.5 388.8 L166.6 388.0ZM165.0 388.2 L164.4 389.2 L163.5 388.4ZM162.0 388.6 L161.3 389.6 L160.4 388.9ZM158.9 389.1 L158.3 390.1 L157.4 389.3ZM155.8 389.5 L155.2 390.5 L154.3 389.7ZM152.8 389.9 L152.1 390.9 L151.2 390.2ZM149.7 390.4 L149.0 391.4 L148.2 390.6ZM146.6 390.8 L146.0 391.8 L145.1 391.0ZM143.6 391.2 L142.9 392.2 L142.0 391.4ZM140.5 391.7 L139.8 392.7 L138.9 391.9ZM137.4 392.1 L136.8 393.1 L135.9 392.3ZM134.3 392.5 L133.7 393.5 L132.8 392.7Z" fill="#222" stroke="#222" stroke-width="0.4"/>
<path d="M182.6 390.4 L181.7 389.6 L181.1 390.6ZM179.5 390.8 L178.7 390.1 L178.0 391.1ZM176.5 391.3 L175.6 390.5 L174.9 391.5ZM173.4 391.7 L172.5 390.9 L171.9 391.9ZM170.3 392.1 L169.4 391.3 L168.8 392.3ZM167.3 392.6 L166.4 391.8 L165.7 392.8ZM164.2 393.0 L163.3 392.2 L162.7 393.2ZM161.1 393.4 L160.2 392.6 L159.6 393.6ZM158.1 393.9 L157.2 393.1 L156.5 394.1ZM155.0 394.3 L154.1 393.5 L153.5 394.5ZM151.9 394.7 L151.0 393.9 L150.4 394.9ZM148.8 395.1 L148.0 394.4 L147.3 395.4ZM145.8 395.6 L144.9 394.8 L144.2 395.8ZM142.7 396.0 L141.8 395.2 L141.2 396.2ZM139.6 396.4 L138.7 395.7 L138.1 396.6ZM136.6 396.9 L135.7 396.1 L135.0 397.1Z" fill="#222" stroke="#222" stroke-width="0.4"/>
<path d="M176.9 371.2 L124.4 373.6 L125.2 378.1 L177.7 375.7Z" fill="#fff" stroke="#2a2a2a" stroke-width="0.85" stroke-linejoin="round" />
<path d="M176.2 371.2 L175.4 372.2 L174.6 371.3ZM173.1 371.4 L172.3 372.3 L171.5 371.5ZM170.0 371.5 L169.2 372.5 L168.4 371.6ZM166.9 371.7 L166.1 372.6 L165.3 371.7ZM163.8 371.8 L163.1 372.7 L162.2 371.9ZM160.7 372.0 L160.0 372.9 L159.1 372.0ZM157.6 372.1 L156.9 373.0 L156.0 372.2ZM154.5 372.2 L153.8 373.2 L152.9 372.3ZM151.4 372.4 L150.7 373.3 L149.9 372.5ZM148.3 372.5 L147.6 373.5 L146.8 372.6ZM145.2 372.7 L144.5 373.6 L143.7 372.7ZM142.1 372.8 L141.4 373.7 L140.6 372.9ZM139.0 372.9 L138.3 373.9 L137.5 373.0ZM135.9 373.1 L135.2 374.0 L134.4 373.2ZM132.8 373.2 L132.1 374.2 L131.3 373.3ZM129.7 373.4 L129.0 374.3 L128.2 373.4Z" fill="#222" stroke="#222" stroke-width="0.4"/>
<path d="M176.9 375.7 L176.1 374.9 L175.4 375.8ZM173.8 375.9 L173.0 375.0 L172.3 375.9ZM170.7 376.0 L169.9 375.1 L169.2 376.1ZM167.6 376.2 L166.8 375.3 L166.1 376.2ZM164.5 376.3 L163.7 375.4 L163.0 376.4ZM161.4 376.4 L160.6 375.6 L159.9 376.5ZM158.3 376.6 L157.5 375.7 L156.8 376.6ZM155.2 376.7 L154.4 375.9 L153.7 376.8ZM152.1 376.9 L151.3 376.0 L150.6 376.9ZM149.1 377.0 L148.2 376.1 L147.5 377.1ZM146.0 377.1 L145.1 376.3 L144.4 377.2ZM142.9 377.3 L142.0 376.4 L141.3 377.4ZM139.8 377.4 L138.9 376.6 L138.2 377.5ZM136.7 377.6 L135.8 376.7 L135.1 377.6ZM133.6 377.7 L132.8 376.8 L132.0 377.8ZM130.5 377.9 L129.7 377.0 L128.9 377.9Z" fill="#222" stroke="#222" stroke-width="0.4"/>
<path d="M503.5 371.2 L556.0 373.6 L555.2 378.1 L502.7 375.7Z" fill="#fff" stroke="#2a2a2a" stroke-width="0.85" stroke-linejoin="round" />
<path d="M504.2 371.2 L505.0 372.2 L505.8 371.3ZM507.3 371.4 L508.1 372.3 L508.9 371.5ZM510.4 371.5 L511.2 372.5 L512.0 371.6ZM513.5 371.7 L514.3 372.6 L515.1 371.7ZM516.6 371.8 L517.3 372.7 L518.2 371.9ZM519.7 372.0 L520.4 372.9 L521.3 372.0ZM522.8 372.1 L523.5 373.0 L524.4 372.2ZM525.9 372.2 L526.6 373.2 L527.5 372.3ZM529.0 372.4 L529.7 373.3 L530.5 372.5ZM532.1 372.5 L532.8 373.5 L533.6 372.6ZM535.2 372.7 L535.9 373.6 L536.7 372.7ZM538.3 372.8 L539.0 373.7 L539.8 372.9ZM541.4 372.9 L542.1 373.9 L542.9 373.0ZM544.5 373.1 L545.2 374.0 L546.0 373.2ZM547.6 373.2 L548.3 374.2 L549.1 373.3ZM550.7 373.4 L551.4 374.3 L552.2 373.4Z" fill="#222" stroke="#222" stroke-width="0.4"/>
<path d="M503.5 375.7 L504.3 374.9 L505.0 375.8ZM506.6 375.9 L507.4 375.0 L508.1 375.9ZM509.7 376.0 L510.5 375.1 L511.2 376.1ZM512.8 376.2 L513.6 375.3 L514.3 376.2ZM515.9 376.3 L516.7 375.4 L517.4 376.4ZM519.0 376.4 L519.8 375.6 L520.5 376.5ZM522.1 376.6 L522.9 375.7 L523.6 376.6ZM525.2 376.7 L526.0 375.9 L526.7 376.8ZM528.3 376.9 L529.1 376.0 L529.8 376.9ZM531.3 377.0 L532.2 376.1 L532.9 377.1ZM534.4 377.1 L535.3 376.3 L536.0 377.2ZM537.5 377.3 L538.4 376.4 L539.1 377.4ZM540.6 377.4 L541.5 376.6 L542.2 377.5ZM543.7 377.6 L544.6 376.7 L545.3 377.6ZM546.8 377.7 L547.6 376.8 L548.4 377.8ZM549.9 377.9 L550.7 377.0 L551.5 377.9Z" fill="#222" stroke="#222" stroke-width="0.4"/>
<path d="M177.2 359.5 L177.2 239.5 A163.0 88.0 0 0 1 503.2 239.5 L503.2 359.5 Z" fill="#fff" stroke="none"/>
<path d="M177.7 356.3 L125.2 353.9 L125.2 273.0 L177.7 275.4Z" fill="url(#h1)" stroke="#2a2a2a" stroke-width="0.85" stroke-linejoin="round" />
<path d="M502.7 356.3 L555.2 353.9 L555.2 273.0 L502.7 275.4Z" fill="url(#h1)" stroke="#2a2a2a" stroke-width="0.85" stroke-linejoin="round" />
<path d="M183.4 341.7 L132.5 334.6 L132.5 253.6 L183.4 260.8Z" fill="url(#h0)" stroke="#2a2a2a" stroke-width="0.85" stroke-linejoin="round" />
<path d="M497.0 341.7 L547.9 334.6 L547.9 253.6 L497.0 260.8Z" fill="url(#h0)" stroke="#2a2a2a" stroke-width="0.85" stroke-linejoin="round" />
<path d="M486.6 327.8 L534.3 316.2 L534.3 235.2 L486.6 246.9Z" fill="url(#h2)" stroke="#2a2a2a" stroke-width="0.85" stroke-linejoin="round" />
<path d="M193.8 327.8 L146.1 316.2 L146.1 235.2 L193.8 246.9Z" fill="url(#h2)" stroke="#2a2a2a" stroke-width="0.85" stroke-linejoin="round" />
<path d="M208.7 315.1 L165.6 299.3 L165.6 218.4 L208.7 234.2Z" fill="url(#h3)" stroke="#2a2a2a" stroke-width="0.85" stroke-linejoin="round" />
<path d="M471.7 315.1 L514.8 299.3 L514.8 218.4 L471.7 234.2Z" fill="url(#h3)" stroke="#2a2a2a" stroke-width="0.85" stroke-linejoin="round" />
<path d="M227.6 303.9 L190.4 284.5 L190.4 203.5 L227.6 223.0Z" fill="url(#h4)" stroke="#2a2a2a" stroke-width="0.85" stroke-linejoin="round" />
<path d="M452.8 303.9 L490.0 284.5 L490.0 203.5 L452.8 223.0Z" fill="url(#h4)" stroke="#2a2a2a" stroke-width="0.85" stroke-linejoin="round" />
<path d="M249.9 294.7 L219.7 272.1 L219.7 191.1 L249.9 213.7Z" fill="url(#h5)" stroke="#2a2a2a" stroke-width="0.85" stroke-linejoin="round" />
<path d="M430.5 294.7 L460.7 272.1 L460.7 191.1 L430.5 213.7Z" fill="url(#h5)" stroke="#2a2a2a" stroke-width="0.85" stroke-linejoin="round" />
<path d="M405.4 287.6 L427.7 262.6 L427.7 181.6 L405.4 206.6Z" fill="url(#h6)" stroke="#2a2a2a" stroke-width="0.85" stroke-linejoin="round" />
<path d="M275.0 287.6 L252.7 262.6 L252.7 181.6 L275.0 206.6Z" fill="url(#h6)" stroke="#2a2a2a" stroke-width="0.85" stroke-linejoin="round" />
<path d="M378.4 282.8 L392.0 256.2 L392.0 175.3 L378.4 201.9Z" fill="url(#h7)" stroke="#2a2a2a" stroke-width="0.85" stroke-linejoin="round" />
<path d="M302.0 282.8 L288.4 256.2 L288.4 175.3 L302.0 201.9Z" fill="url(#h7)" stroke="#2a2a2a" stroke-width="0.85" stroke-linejoin="round" />
<path d="M350.2 280.6 L354.8 253.2 L354.8 172.2 L350.2 199.7Z" fill="#0a0a0a" stroke="#2a2a2a" stroke-width="0.85" stroke-linejoin="round" />
<path d="M330.2 280.6 L325.6 253.2 L325.6 172.2 L330.2 199.7Z" fill="#0a0a0a" stroke="#2a2a2a" stroke-width="0.85" stroke-linejoin="round" />
<ellipse cx="340.20" cy="359.50" rx="168.00" ry="88.00" fill="#fff" stroke="#2a2a2a" stroke-width="0.85" />
<path d="M177.7 356.3 L125.2 353.9 L124.4 358.4 L176.9 360.8Z" fill="#fff" stroke="#2a2a2a" stroke-width="0.85" stroke-linejoin="round" />
<path d="M176.9 356.3 L176.1 357.1 L175.4 356.2ZM173.8 356.1 L173.0 357.0 L172.3 356.1ZM170.7 356.0 L169.9 356.9 L169.2 355.9ZM167.6 355.8 L166.8 356.7 L166.1 355.8ZM164.5 355.7 L163.7 356.6 L163.0 355.6ZM161.4 355.6 L160.6 356.4 L159.9 355.5ZM158.3 355.4 L157.5 356.3 L156.8 355.4ZM155.2 355.3 L154.4 356.1 L153.7 355.2ZM152.1 355.1 L151.3 356.0 L150.6 355.1ZM149.1 355.0 L148.2 355.9 L147.5 354.9ZM146.0 354.9 L145.1 355.7 L144.4 354.8ZM142.9 354.7 L142.0 355.6 L141.3 354.6ZM139.8 354.6 L138.9 355.4 L138.2 354.5ZM136.7 354.4 L135.8 355.3 L135.1 354.4ZM133.6 354.3 L132.8 355.2 L132.0 354.2ZM130.5 354.1 L129.7 355.0 L128.9 354.1Z" fill="#222" stroke="#222" stroke-width="0.4"/>
<path d="M176.2 360.8 L175.4 359.8 L174.6 360.7ZM173.1 360.6 L172.3 359.7 L171.5 360.5ZM170.0 360.5 L169.2 359.5 L168.4 360.4ZM166.9 360.3 L166.1 359.4 L165.3 360.3ZM163.8 360.2 L163.1 359.3 L162.2 360.1ZM160.7 360.0 L160.0 359.1 L159.1 360.0ZM157.6 359.9 L156.9 359.0 L156.0 359.8ZM154.5 359.8 L153.8 358.8 L152.9 359.7ZM151.4 359.6 L150.7 358.7 L149.9 359.5ZM148.3 359.5 L147.6 358.5 L146.8 359.4ZM145.2 359.3 L144.5 358.4 L143.7 359.3ZM142.1 359.2 L141.4 358.3 L140.6 359.1ZM139.0 359.1 L138.3 358.1 L137.5 359.0ZM135.9 358.9 L135.2 358.0 L134.4 358.8ZM132.8 358.8 L132.1 357.8 L131.3 358.7ZM129.7 358.6 L129.0 357.7 L128.2 358.6Z" fill="#222" stroke="#222" stroke-width="0.4"/>
<path d="M502.7 356.3 L555.2 353.9 L556.0 358.4 L503.5 360.8Z" fill="#fff" stroke="#2a2a2a" stroke-width="0.85" stroke-linejoin="round" />
<path d="M503.5 356.3 L504.3 357.1 L505.0 356.2ZM506.6 356.1 L507.4 357.0 L508.1 356.1ZM509.7 356.0 L510.5 356.9 L511.2 355.9ZM512.8 355.8 L513.6 356.7 L514.3 355.8ZM515.9 355.7 L516.7 356.6 L517.4 355.6ZM519.0 355.6 L519.8 356.4 L520.5 355.5ZM522.1 355.4 L522.9 356.3 L523.6 355.4ZM525.2 355.3 L526.0 356.1 L526.7 355.2ZM528.3 355.1 L529.1 356.0 L529.8 355.1ZM531.3 355.0 L532.2 355.9 L532.9 354.9ZM534.4 354.9 L535.3 355.7 L536.0 354.8ZM537.5 354.7 L538.4 355.6 L539.1 354.6ZM540.6 354.6 L541.5 355.4 L542.2 354.5ZM543.7 354.4 L544.6 355.3 L545.3 354.4ZM546.8 354.3 L547.6 355.2 L548.4 354.2ZM549.9 354.1 L550.7 355.0 L551.5 354.1Z" fill="#222" stroke="#222" stroke-width="0.4"/>
<path d="M504.2 360.8 L505.0 359.8 L505.8 360.7ZM507.3 360.6 L508.1 359.7 L508.9 360.5ZM510.4 360.5 L511.2 359.5 L512.0 360.4ZM513.5 360.3 L514.3 359.4 L515.1 360.3ZM516.6 360.2 L517.3 359.3 L518.2 360.1ZM519.7 360.0 L520.4 359.1 L521.3 360.0ZM522.8 359.9 L523.5 359.0 L524.4 359.8ZM525.9 359.8 L526.6 358.8 L527.5 359.7ZM529.0 359.6 L529.7 358.7 L530.5 359.5ZM532.1 359.5 L532.8 358.5 L533.6 359.4ZM535.2 359.3 L535.9 358.4 L536.7 359.3ZM538.3 359.2 L539.0 358.3 L539.8 359.1ZM541.4 359.1 L542.1 358.1 L542.9 359.0ZM544.5 358.9 L545.2 358.0 L546.0 358.8ZM547.6 358.8 L548.3 357.8 L549.1 358.7ZM550.7 358.6 L551.4 357.7 L552.2 358.6Z" fill="#222" stroke="#222" stroke-width="0.4"/>
<path d="M183.4 341.7 L132.5 334.6 L130.3 338.9 L181.2 346.0Z" fill="#fff" stroke="#2a2a2a" stroke-width="0.85" stroke-linejoin="round" />
<path d="M182.6 341.6 L181.7 342.4 L181.1 341.4ZM179.5 341.2 L178.7 341.9 L178.0 340.9ZM176.5 340.7 L175.6 341.5 L174.9 340.5ZM173.4 340.3 L172.5 341.1 L171.9 340.1ZM170.3 339.9 L169.4 340.7 L168.8 339.7ZM167.3 339.4 L166.4 340.2 L165.7 339.2ZM164.2 339.0 L163.3 339.8 L162.7 338.8ZM161.1 338.6 L160.2 339.4 L159.6 338.4ZM158.1 338.1 L157.2 338.9 L156.5 337.9ZM155.0 337.7 L154.1 338.5 L153.5 337.5ZM151.9 337.3 L151.0 338.1 L150.4 337.1ZM148.8 336.9 L148.0 337.6 L147.3 336.6ZM145.8 336.4 L144.9 337.2 L144.2 336.2ZM142.7 336.0 L141.8 336.8 L141.2 335.8ZM139.6 335.6 L138.7 336.3 L138.1 335.4ZM136.6 335.1 L135.7 335.9 L135.0 334.9Z" fill="#222" stroke="#222" stroke-width="0.4"/>
<path d="M180.4 345.9 L179.7 344.9 L178.9 345.7ZM177.3 345.5 L176.7 344.5 L175.8 345.3ZM174.3 345.1 L173.6 344.1 L172.7 344.9ZM171.2 344.6 L170.5 343.6 L169.6 344.4ZM168.1 344.2 L167.5 343.2 L166.6 344.0ZM165.0 343.8 L164.4 342.8 L163.5 343.6ZM162.0 343.4 L161.3 342.4 L160.4 343.1ZM158.9 342.9 L158.3 341.9 L157.4 342.7ZM155.8 342.5 L155.2 341.5 L154.3 342.3ZM152.8 342.1 L152.1 341.1 L151.2 341.8ZM149.7 341.6 L149.0 340.6 L148.2 341.4ZM146.6 341.2 L146.0 340.2 L145.1 341.0ZM143.6 340.8 L142.9 339.8 L142.0 340.6ZM140.5 340.3 L139.8 339.3 L138.9 340.1ZM137.4 339.9 L136.8 338.9 L135.9 339.7ZM134.3 339.5 L133.7 338.5 L132.8 339.3Z" fill="#222" stroke="#222" stroke-width="0.4"/>
<path d="M497.0 341.7 L547.9 334.6 L550.1 338.9 L499.2 346.0Z" fill="#fff" stroke="#2a2a2a" stroke-width="0.85" stroke-linejoin="round" />
<path d="M497.8 341.6 L498.7 342.4 L499.3 341.4ZM500.9 341.2 L501.7 341.9 L502.4 340.9ZM503.9 340.7 L504.8 341.5 L505.5 340.5ZM507.0 340.3 L507.9 341.1 L508.5 340.1ZM510.1 339.9 L511.0 340.7 L511.6 339.7ZM513.1 339.4 L514.0 340.2 L514.7 339.2ZM516.2 339.0 L517.1 339.8 L517.7 338.8ZM519.3 338.6 L520.2 339.4 L520.8 338.4ZM522.3 338.1 L523.2 338.9 L523.9 337.9ZM525.4 337.7 L526.3 338.5 L526.9 337.5ZM528.5 337.3 L529.4 338.1 L530.0 337.1ZM531.6 336.9 L532.4 337.6 L533.1 336.6ZM534.6 336.4 L535.5 337.2 L536.2 336.2ZM537.7 336.0 L538.6 336.8 L539.2 335.8ZM540.8 335.6 L541.7 336.3 L542.3 335.4ZM543.8 335.1 L544.7 335.9 L545.4 334.9Z" fill="#222" stroke="#222" stroke-width="0.4"/>
<path d="M500.0 345.9 L500.7 344.9 L501.5 345.7ZM503.1 345.5 L503.7 344.5 L504.6 345.3ZM506.1 345.1 L506.8 344.1 L507.7 344.9ZM509.2 344.6 L509.9 343.6 L510.8 344.4ZM512.3 344.2 L512.9 343.2 L513.8 344.0ZM515.4 343.8 L516.0 342.8 L516.9 343.6ZM518.4 343.4 L519.1 342.4 L520.0 343.1ZM521.5 342.9 L522.1 341.9 L523.0 342.7ZM524.6 342.5 L525.2 341.5 L526.1 342.3ZM527.6 342.1 L528.3 341.1 L529.2 341.8ZM530.7 341.6 L531.4 340.6 L532.2 341.4ZM533.8 341.2 L534.4 340.2 L535.3 341.0ZM536.8 340.8 L537.5 339.8 L538.4 340.6ZM539.9 340.3 L540.6 339.3 L541.5 340.1ZM543.0 339.9 L543.6 338.9 L544.5 339.7ZM546.1 339.5 L546.7 338.5 L547.6 339.3Z" fill="#222" stroke="#222" stroke-width="0.4"/>
<path d="M486.6 327.8 L534.3 316.2 L538.0 320.3 L490.2 331.9Z" fill="#fff" stroke="#2a2a2a" stroke-width="0.85" stroke-linejoin="round" />
<path d="M487.3 327.6 L488.3 328.3 L488.8 327.3ZM490.3 326.9 L491.3 327.6 L491.8 326.5ZM493.3 326.2 L494.3 326.9 L494.8 325.8ZM496.4 325.4 L497.3 326.1 L497.9 325.1ZM499.4 324.7 L500.3 325.4 L500.9 324.3ZM502.4 324.0 L503.3 324.7 L503.9 323.6ZM505.4 323.2 L506.4 323.9 L506.9 322.9ZM508.4 322.5 L509.4 323.2 L509.9 322.1ZM511.4 321.8 L512.4 322.5 L512.9 321.4ZM514.4 321.0 L515.4 321.7 L515.9 320.7ZM517.4 320.3 L518.4 321.0 L518.9 319.9ZM520.4 319.6 L521.4 320.3 L522.0 319.2ZM523.5 318.8 L524.4 319.5 L525.0 318.5ZM526.5 318.1 L527.4 318.8 L528.0 317.7ZM529.5 317.4 L530.4 318.0 L531.0 317.0Z" fill="#222" stroke="#222" stroke-width="0.4"/>
<path d="M491.0 331.7 L491.5 330.7 L492.5 331.3ZM494.0 331.0 L494.5 329.9 L495.5 330.6ZM497.0 330.2 L497.5 329.2 L498.5 329.9ZM500.0 329.5 L500.5 328.5 L501.5 329.1ZM503.0 328.8 L503.5 327.7 L504.5 328.4ZM506.0 328.0 L506.5 327.0 L507.5 327.7ZM509.0 327.3 L509.6 326.3 L510.5 326.9ZM512.0 326.6 L512.6 325.5 L513.5 326.2ZM515.0 325.8 L515.6 324.8 L516.6 325.5ZM518.1 325.1 L518.6 324.0 L519.6 324.7ZM521.1 324.4 L521.6 323.3 L522.6 324.0ZM524.1 323.6 L524.6 322.6 L525.6 323.3ZM527.1 322.9 L527.6 321.8 L528.6 322.5ZM530.1 322.2 L530.6 321.1 L531.6 321.8ZM533.1 321.4 L533.7 320.4 L534.6 321.1Z" fill="#222" stroke="#222" stroke-width="0.4"/>
<path d="M193.8 327.8 L146.1 316.2 L142.4 320.3 L190.2 331.9Z" fill="#fff" stroke="#2a2a2a" stroke-width="0.85" stroke-linejoin="round" />
<path d="M193.1 327.6 L192.1 328.3 L191.6 327.3ZM190.1 326.9 L189.1 327.6 L188.6 326.5ZM187.1 326.2 L186.1 326.9 L185.6 325.8ZM184.0 325.4 L183.1 326.1 L182.5 325.1ZM181.0 324.7 L180.1 325.4 L179.5 324.3ZM178.0 324.0 L177.1 324.7 L176.5 323.6ZM175.0 323.2 L174.0 323.9 L173.5 322.9ZM172.0 322.5 L171.0 323.2 L170.5 322.1ZM169.0 321.8 L168.0 322.5 L167.5 321.4ZM166.0 321.0 L165.0 321.7 L164.5 320.7ZM163.0 320.3 L162.0 321.0 L161.5 319.9ZM160.0 319.6 L159.0 320.3 L158.4 319.2ZM156.9 318.8 L156.0 319.5 L155.4 318.5ZM153.9 318.1 L153.0 318.8 L152.4 317.7ZM150.9 317.4 L150.0 318.0 L149.4 317.0Z" fill="#222" stroke="#222" stroke-width="0.4"/>
<path d="M189.4 331.7 L188.9 330.7 L187.9 331.3ZM186.4 331.0 L185.9 329.9 L184.9 330.6ZM183.4 330.2 L182.9 329.2 L181.9 329.9ZM180.4 329.5 L179.9 328.5 L178.9 329.1ZM177.4 328.8 L176.9 327.7 L175.9 328.4ZM174.4 328.0 L173.9 327.0 L172.9 327.7ZM171.4 327.3 L170.8 326.3 L169.9 326.9ZM168.4 326.6 L167.8 325.5 L166.9 326.2ZM165.4 325.8 L164.8 324.8 L163.8 325.5ZM162.3 325.1 L161.8 324.0 L160.8 324.7ZM159.3 324.4 L158.8 323.3 L157.8 324.0ZM156.3 323.6 L155.8 322.6 L154.8 323.3ZM153.3 322.9 L152.8 321.8 L151.8 322.5ZM150.3 322.2 L149.8 321.1 L148.8 321.8ZM147.3 321.4 L146.7 320.4 L145.8 321.1Z" fill="#222" stroke="#222" stroke-width="0.4"/>
<path d="M208.7 315.1 L165.6 299.3 L160.6 303.0 L203.8 318.8Z" fill="#fff" stroke="#2a2a2a" stroke-width="0.85" stroke-linejoin="round" />
<path d="M208.0 314.8 L207.0 315.4 L206.6 314.3ZM205.1 313.8 L204.1 314.4 L203.6 313.2ZM202.2 312.7 L201.1 313.3 L200.7 312.2ZM199.3 311.6 L198.2 312.2 L197.8 311.1ZM196.4 310.6 L195.3 311.2 L194.9 310.0ZM193.5 309.5 L192.4 310.1 L192.0 309.0ZM190.5 308.4 L189.5 309.0 L189.1 307.9ZM187.6 307.4 L186.6 308.0 L186.2 306.8ZM184.7 306.3 L183.7 306.9 L183.3 305.8ZM181.8 305.3 L180.8 305.8 L180.4 304.7ZM178.9 304.2 L177.9 304.8 L177.4 303.7ZM176.0 303.1 L174.9 303.7 L174.5 302.6ZM173.1 302.1 L172.0 302.6 L171.6 301.5ZM170.2 301.0 L169.1 301.6 L168.7 300.5Z" fill="#222" stroke="#222" stroke-width="0.4"/>
<path d="M203.1 318.5 L202.7 317.4 L201.6 318.0ZM200.2 317.5 L199.7 316.4 L198.7 316.9ZM197.3 316.4 L196.8 315.3 L195.8 315.9ZM194.3 315.3 L193.9 314.2 L192.9 314.8ZM191.4 314.3 L191.0 313.2 L190.0 313.7ZM188.5 313.2 L188.1 312.1 L187.1 312.7ZM185.6 312.1 L185.2 311.0 L184.2 311.6ZM182.7 311.1 L182.3 310.0 L181.2 310.5ZM179.8 310.0 L179.4 308.9 L178.3 309.5ZM176.9 308.9 L176.5 307.8 L175.4 308.4ZM174.0 307.9 L173.5 306.8 L172.5 307.3ZM171.1 306.8 L170.6 305.7 L169.6 306.3ZM168.1 305.7 L167.7 304.6 L166.7 305.2ZM165.2 304.7 L164.8 303.6 L163.8 304.1Z" fill="#222" stroke="#222" stroke-width="0.4"/>
<path d="M471.7 315.1 L514.8 299.3 L519.8 303.0 L476.6 318.8Z" fill="#fff" stroke="#2a2a2a" stroke-width="0.85" stroke-linejoin="round" />
<path d="M472.4 314.8 L473.4 315.4 L473.8 314.3ZM475.3 313.8 L476.3 314.4 L476.8 313.2ZM478.2 312.7 L479.3 313.3 L479.7 312.2ZM481.1 311.6 L482.2 312.2 L482.6 311.1ZM484.0 310.6 L485.1 311.2 L485.5 310.0ZM486.9 309.5 L488.0 310.1 L488.4 309.0ZM489.9 308.4 L490.9 309.0 L491.3 307.9ZM492.8 307.4 L493.8 308.0 L494.2 306.8ZM495.7 306.3 L496.7 306.9 L497.1 305.8ZM498.6 305.3 L499.6 305.8 L500.0 304.7ZM501.5 304.2 L502.5 304.8 L503.0 303.7ZM504.4 303.1 L505.5 303.7 L505.9 302.6ZM507.3 302.1 L508.4 302.6 L508.8 301.5ZM510.2 301.0 L511.3 301.6 L511.7 300.5Z" fill="#222" stroke="#222" stroke-width="0.4"/>
<path d="M477.3 318.5 L477.7 317.4 L478.8 318.0ZM480.2 317.5 L480.7 316.4 L481.7 316.9ZM483.1 316.4 L483.6 315.3 L484.6 315.9ZM486.1 315.3 L486.5 314.2 L487.5 314.8ZM489.0 314.3 L489.4 313.2 L490.4 313.7ZM491.9 313.2 L492.3 312.1 L493.3 312.7ZM494.8 312.1 L495.2 311.0 L496.2 311.6ZM497.7 311.1 L498.1 310.0 L499.2 310.5ZM500.6 310.0 L501.0 308.9 L502.1 309.5ZM503.5 308.9 L503.9 307.8 L505.0 308.4ZM506.4 307.9 L506.9 306.8 L507.9 307.3ZM509.3 306.8 L509.8 305.7 L510.8 306.3ZM512.3 305.7 L512.7 304.6 L513.7 305.2ZM515.2 304.7 L515.6 303.6 L516.6 304.1Z" fill="#222" stroke="#222" stroke-width="0.4"/>
<path d="M227.6 303.9 L190.4 284.5 L184.3 287.6 L221.5 307.1Z" fill="#fff" stroke="#2a2a2a" stroke-width="0.85" stroke-linejoin="round" />
<path d="M226.9 303.6 L225.8 304.0 L225.6 302.9ZM224.2 302.1 L223.1 302.6 L222.8 301.4ZM221.4 300.7 L220.3 301.2 L220.1 300.0ZM218.7 299.3 L217.6 299.7 L217.3 298.6ZM216.0 297.8 L214.9 298.3 L214.6 297.1ZM213.2 296.4 L212.1 296.8 L211.8 295.7ZM210.5 295.0 L209.4 295.4 L209.1 294.2ZM207.7 293.5 L206.6 294.0 L206.3 292.8ZM205.0 292.1 L203.9 292.5 L203.6 291.4ZM202.2 290.7 L201.1 291.1 L200.8 289.9ZM199.5 289.2 L198.4 289.7 L198.1 288.5ZM196.7 287.8 L195.6 288.2 L195.4 287.1ZM194.0 286.3 L192.9 286.8 L192.6 285.6Z" fill="#222" stroke="#222" stroke-width="0.4"/>
<path d="M220.9 306.8 L220.6 305.6 L219.5 306.0ZM218.1 305.3 L217.8 304.2 L216.7 304.6ZM215.4 303.9 L215.1 302.7 L214.0 303.2ZM212.6 302.5 L212.4 301.3 L211.2 301.7ZM209.9 301.0 L209.6 299.9 L208.5 300.3ZM207.1 299.6 L206.9 298.4 L205.8 298.9ZM204.4 298.1 L204.1 297.0 L203.0 297.4ZM201.6 296.7 L201.4 295.6 L200.3 296.0ZM198.9 295.3 L198.6 294.1 L197.5 294.6ZM196.1 293.8 L195.9 292.7 L194.8 293.1ZM193.4 292.4 L193.1 291.2 L192.0 291.7ZM190.6 291.0 L190.4 289.8 L189.3 290.2ZM187.9 289.5 L187.6 288.4 L186.5 288.8Z" fill="#222" stroke="#222" stroke-width="0.4"/>
<path d="M452.8 303.9 L490.0 284.5 L496.1 287.6 L458.9 307.1Z" fill="#fff" stroke="#2a2a2a" stroke-width="0.85" stroke-linejoin="round" />
<path d="M453.5 303.6 L454.6 304.0 L454.8 302.9ZM456.2 302.1 L457.3 302.6 L457.6 301.4ZM459.0 300.7 L460.1 301.2 L460.3 300.0ZM461.7 299.3 L462.8 299.7 L463.1 298.6ZM464.4 297.8 L465.5 298.3 L465.8 297.1ZM467.2 296.4 L468.3 296.8 L468.6 295.7ZM469.9 295.0 L471.0 295.4 L471.3 294.2ZM472.7 293.5 L473.8 294.0 L474.1 292.8ZM475.4 292.1 L476.5 292.5 L476.8 291.4ZM478.2 290.7 L479.3 291.1 L479.6 289.9ZM480.9 289.2 L482.0 289.7 L482.3 288.5ZM483.7 287.8 L484.8 288.2 L485.0 287.1ZM486.4 286.3 L487.5 286.8 L487.8 285.6Z" fill="#222" stroke="#222" stroke-width="0.4"/>
<path d="M459.5 306.8 L459.8 305.6 L460.9 306.0ZM462.3 305.3 L462.6 304.2 L463.7 304.6ZM465.0 303.9 L465.3 302.7 L466.4 303.2ZM467.8 302.5 L468.0 301.3 L469.2 301.7ZM470.5 301.0 L470.8 299.9 L471.9 300.3ZM473.3 299.6 L473.5 298.4 L474.6 298.9ZM476.0 298.1 L476.3 297.0 L477.4 297.4ZM478.8 296.7 L479.0 295.6 L480.1 296.0ZM481.5 295.3 L481.8 294.1 L482.9 294.6ZM484.3 293.8 L484.5 292.7 L485.6 293.1ZM487.0 292.4 L487.3 291.2 L488.4 291.7ZM489.8 291.0 L490.0 289.8 L491.1 290.2ZM492.5 289.5 L492.8 288.4 L493.9 288.8Z" fill="#222" stroke="#222" stroke-width="0.4"/>
<path d="M249.9 294.7 L219.7 272.1 L212.7 274.7 L242.9 297.2Z" fill="#fff" stroke="#2a2a2a" stroke-width="0.85" stroke-linejoin="round" />
<path d="M249.3 294.2 L248.2 294.5 L248.1 293.3ZM246.8 292.3 L245.7 292.6 L245.6 291.4ZM244.4 290.5 L243.2 290.7 L243.1 289.6ZM241.9 288.6 L240.7 288.9 L240.6 287.7ZM239.4 286.8 L238.2 287.0 L238.1 285.9ZM236.9 284.9 L235.7 285.2 L235.7 284.0ZM234.4 283.1 L233.3 283.3 L233.2 282.1ZM231.9 281.2 L230.8 281.5 L230.7 280.3ZM229.5 279.4 L228.3 279.6 L228.2 278.4ZM227.0 277.5 L225.8 277.8 L225.7 276.6ZM224.5 275.6 L223.3 275.9 L223.2 274.7ZM222.0 273.8 L220.8 274.1 L220.8 272.9Z" fill="#222" stroke="#222" stroke-width="0.4"/>
<path d="M242.3 296.8 L242.2 295.6 L241.0 295.9ZM239.8 294.9 L239.7 293.7 L238.6 294.0ZM237.3 293.1 L237.2 291.9 L236.1 292.1ZM234.8 291.2 L234.7 290.0 L233.6 290.3ZM232.3 289.4 L232.3 288.2 L231.1 288.4ZM229.9 287.5 L229.8 286.3 L228.6 286.6ZM227.4 285.6 L227.3 284.5 L226.1 284.7ZM224.9 283.8 L224.8 282.6 L223.6 282.9ZM222.4 281.9 L222.3 280.8 L221.2 281.0ZM219.9 280.1 L219.8 278.9 L218.7 279.2ZM217.4 278.2 L217.4 277.0 L216.2 277.3ZM215.0 276.4 L214.9 275.2 L213.7 275.4Z" fill="#222" stroke="#222" stroke-width="0.4"/>
<path d="M430.5 294.7 L460.7 272.1 L467.7 274.7 L437.5 297.2Z" fill="#fff" stroke="#2a2a2a" stroke-width="0.85" stroke-linejoin="round" />
<path d="M431.1 294.2 L432.2 294.5 L432.3 293.3ZM433.6 292.3 L434.7 292.6 L434.8 291.4ZM436.0 290.5 L437.2 290.7 L437.3 289.6ZM438.5 288.6 L439.7 288.9 L439.8 287.7ZM441.0 286.8 L442.2 287.0 L442.3 285.9ZM443.5 284.9 L444.7 285.2 L444.7 284.0ZM446.0 283.1 L447.1 283.3 L447.2 282.1ZM448.5 281.2 L449.6 281.5 L449.7 280.3ZM450.9 279.4 L452.1 279.6 L452.2 278.4ZM453.4 277.5 L454.6 277.8 L454.7 276.6ZM455.9 275.6 L457.1 275.9 L457.2 274.7ZM458.4 273.8 L459.6 274.1 L459.6 272.9Z" fill="#222" stroke="#222" stroke-width="0.4"/>
<path d="M438.1 296.8 L438.2 295.6 L439.4 295.9ZM440.6 294.9 L440.7 293.7 L441.8 294.0ZM443.1 293.1 L443.2 291.9 L444.3 292.1ZM445.6 291.2 L445.7 290.0 L446.8 290.3ZM448.1 289.4 L448.1 288.2 L449.3 288.4ZM450.5 287.5 L450.6 286.3 L451.8 286.6ZM453.0 285.6 L453.1 284.5 L454.3 284.7ZM455.5 283.8 L455.6 282.6 L456.8 282.9ZM458.0 281.9 L458.1 280.8 L459.2 281.0ZM460.5 280.1 L460.6 278.9 L461.7 279.2ZM463.0 278.2 L463.0 277.0 L464.2 277.3ZM465.4 276.4 L465.5 275.2 L466.7 275.4Z" fill="#222" stroke="#222" stroke-width="0.4"/>
<path d="M405.4 287.6 L427.7 262.6 L435.5 264.5 L413.2 289.5Z" fill="#fff" stroke="#2a2a2a" stroke-width="0.85" stroke-linejoin="round" />
<path d="M405.9 287.0 L407.1 287.0 L406.9 285.8ZM408.0 284.7 L409.2 284.7 L409.0 283.5ZM410.0 282.3 L411.2 282.4 L411.1 281.2ZM412.1 280.0 L413.3 280.1 L413.1 278.9ZM414.2 277.7 L415.4 277.7 L415.2 276.6ZM416.2 275.4 L417.4 275.4 L417.3 274.2ZM418.3 273.1 L419.5 273.1 L419.3 271.9ZM420.4 270.8 L421.5 270.8 L421.4 269.6ZM422.4 268.5 L423.6 268.5 L423.5 267.3ZM424.5 266.1 L425.7 266.2 L425.5 265.0Z" fill="#222" stroke="#222" stroke-width="0.4"/>
<path d="M413.7 288.9 L413.6 287.7 L414.7 287.7ZM415.8 286.6 L415.6 285.4 L416.8 285.4ZM417.8 284.2 L417.7 283.1 L418.9 283.1ZM419.9 281.9 L419.7 280.8 L420.9 280.8ZM422.0 279.6 L421.8 278.4 L423.0 278.5ZM424.0 277.3 L423.9 276.1 L425.1 276.1ZM426.1 275.0 L425.9 273.8 L427.1 273.8ZM428.2 272.7 L428.0 271.5 L429.2 271.5ZM430.2 270.4 L430.1 269.2 L431.2 269.2ZM432.3 268.0 L432.1 266.9 L433.3 266.9Z" fill="#222" stroke="#222" stroke-width="0.4"/>
<path d="M275.0 287.6 L252.7 262.6 L244.9 264.5 L267.2 289.5Z" fill="#fff" stroke="#2a2a2a" stroke-width="0.85" stroke-linejoin="round" />
<path d="M274.5 287.0 L273.3 287.0 L273.5 285.8ZM272.4 284.7 L271.2 284.7 L271.4 283.5ZM270.4 282.3 L269.2 282.4 L269.3 281.2ZM268.3 280.0 L267.1 280.1 L267.3 278.9ZM266.2 277.7 L265.0 277.7 L265.2 276.6ZM264.2 275.4 L263.0 275.4 L263.1 274.2ZM262.1 273.1 L260.9 273.1 L261.1 271.9ZM260.0 270.8 L258.9 270.8 L259.0 269.6ZM258.0 268.5 L256.8 268.5 L256.9 267.3ZM255.9 266.1 L254.7 266.2 L254.9 265.0Z" fill="#222" stroke="#222" stroke-width="0.4"/>
<path d="M266.7 288.9 L266.8 287.7 L265.7 287.7ZM264.6 286.6 L264.8 285.4 L263.6 285.4ZM262.6 284.2 L262.7 283.1 L261.5 283.1ZM260.5 281.9 L260.7 280.8 L259.5 280.8ZM258.4 279.6 L258.6 278.4 L257.4 278.5ZM256.4 277.3 L256.5 276.1 L255.3 276.1ZM254.3 275.0 L254.5 273.8 L253.3 273.8ZM252.2 272.7 L252.4 271.5 L251.2 271.5ZM250.2 270.4 L250.3 269.2 L249.2 269.2ZM248.1 268.0 L248.3 266.9 L247.1 266.9Z" fill="#222" stroke="#222" stroke-width="0.4"/>
<path d="M378.4 282.8 L392.0 256.2 L400.3 257.4 L386.7 284.0Z" fill="#fff" stroke="#2a2a2a" stroke-width="0.85" stroke-linejoin="round" />
<path d="M378.7 282.1 L379.9 281.9 L379.4 280.8ZM380.1 279.4 L381.3 279.1 L380.8 278.0ZM381.5 276.6 L382.7 276.3 L382.3 275.2ZM383.0 273.9 L384.1 273.6 L383.7 272.5ZM384.4 271.1 L385.5 270.8 L385.1 269.7ZM385.8 268.3 L386.9 268.1 L386.5 267.0ZM387.2 265.6 L388.4 265.3 L387.9 264.2ZM388.6 262.8 L389.8 262.5 L389.3 261.4ZM390.0 260.1 L391.2 259.8 L390.7 258.7Z" fill="#222" stroke="#222" stroke-width="0.4"/>
<path d="M387.0 283.3 L386.6 282.2 L387.7 281.9ZM388.4 280.5 L388.0 279.4 L389.1 279.2ZM389.9 277.8 L389.4 276.7 L390.6 276.4ZM391.3 275.0 L390.8 273.9 L392.0 273.6ZM392.7 272.3 L392.2 271.2 L393.4 270.9ZM394.1 269.5 L393.6 268.4 L394.8 268.1ZM395.5 266.7 L395.1 265.6 L396.2 265.4ZM396.9 264.0 L396.5 262.9 L397.6 262.6ZM398.3 261.2 L397.9 260.1 L399.0 259.8Z" fill="#222" stroke="#222" stroke-width="0.4"/>
<path d="M302.0 282.8 L288.4 256.2 L280.1 257.4 L293.7 284.0Z" fill="#fff" stroke="#2a2a2a" stroke-width="0.85" stroke-linejoin="round" />
<path d="M301.7 282.1 L300.5 281.9 L301.0 280.8ZM300.3 279.4 L299.1 279.1 L299.6 278.0ZM298.9 276.6 L297.7 276.3 L298.1 275.2ZM297.4 273.9 L296.3 273.6 L296.7 272.5ZM296.0 271.1 L294.9 270.8 L295.3 269.7ZM294.6 268.3 L293.5 268.1 L293.9 267.0ZM293.2 265.6 L292.0 265.3 L292.5 264.2ZM291.8 262.8 L290.6 262.5 L291.1 261.4ZM290.4 260.1 L289.2 259.8 L289.7 258.7Z" fill="#222" stroke="#222" stroke-width="0.4"/>
<path d="M293.4 283.3 L293.8 282.2 L292.7 281.9ZM292.0 280.5 L292.4 279.4 L291.3 279.2ZM290.5 277.8 L291.0 276.7 L289.8 276.4ZM289.1 275.0 L289.6 273.9 L288.4 273.6ZM287.7 272.3 L288.2 271.2 L287.0 270.9ZM286.3 269.5 L286.8 268.4 L285.6 268.1ZM284.9 266.7 L285.3 265.6 L284.2 265.4ZM283.5 264.0 L283.9 262.9 L282.8 262.6ZM282.1 261.2 L282.5 260.1 L281.4 259.8Z" fill="#222" stroke="#222" stroke-width="0.4"/>
<path d="M350.2 280.6 L354.8 253.2 L363.3 253.6 L358.7 281.0Z" fill="#fff" stroke="#2a2a2a" stroke-width="0.85" stroke-linejoin="round" />
<path d="M350.3 279.9 L351.3 279.2 L350.5 278.3ZM350.8 276.8 L351.8 276.2 L351.1 275.3ZM351.3 273.7 L352.3 273.1 L351.6 272.2ZM351.8 270.7 L352.8 270.1 L352.1 269.2ZM352.3 267.6 L353.4 267.0 L352.6 266.1ZM352.9 264.6 L353.9 264.0 L353.1 263.0ZM353.4 261.5 L354.4 260.9 L353.6 260.0ZM353.9 258.5 L354.9 257.8 L354.1 256.9Z" fill="#222" stroke="#222" stroke-width="0.4"/>
<path d="M358.9 280.2 L358.1 279.3 L359.1 278.7ZM359.4 277.2 L358.6 276.3 L359.6 275.7ZM359.9 274.1 L359.1 273.2 L360.1 272.6ZM360.4 271.1 L359.6 270.2 L360.7 269.5ZM360.9 268.0 L360.1 267.1 L361.2 266.5ZM361.4 265.0 L360.7 264.0 L361.7 263.4ZM361.9 261.9 L361.2 261.0 L362.2 260.4ZM362.4 258.8 L361.7 257.9 L362.7 257.3Z" fill="#222" stroke="#222" stroke-width="0.4"/>
<path d="M330.2 280.6 L325.6 253.2 L317.1 253.6 L321.7 281.0Z" fill="#fff" stroke="#2a2a2a" stroke-width="0.85" stroke-linejoin="round" />
<path d="M330.1 279.9 L329.1 279.2 L329.9 278.3ZM329.6 276.8 L328.6 276.2 L329.3 275.3ZM329.1 273.7 L328.1 273.1 L328.8 272.2ZM328.6 270.7 L327.6 270.1 L328.3 269.2ZM328.1 267.6 L327.0 267.0 L327.8 266.1ZM327.5 264.6 L326.5 264.0 L327.3 263.0ZM327.0 261.5 L326.0 260.9 L326.8 260.0ZM326.5 258.5 L325.5 257.8 L326.3 256.9Z" fill="#222" stroke="#222" stroke-width="0.4"/>
<path d="M321.5 280.2 L322.3 279.3 L321.3 278.7ZM321.0 277.2 L321.8 276.3 L320.8 275.7ZM320.5 274.1 L321.3 273.2 L320.3 272.6ZM320.0 271.1 L320.8 270.2 L319.7 269.5ZM319.5 268.0 L320.3 267.1 L319.2 266.5ZM319.0 265.0 L319.7 264.0 L318.7 263.4ZM318.5 261.9 L319.2 261.0 L318.2 260.4ZM318.0 258.8 L318.7 257.9 L317.7 257.3Z" fill="#222" stroke="#222" stroke-width="0.4"/>
<g transform="translate(246.5 270.8)">
<ellipse rx="12" ry="6.8" fill="#fff" stroke="#2a2a2a" stroke-width="0.85"/>
<ellipse rx="6.6" ry="3.3" fill="#fff" stroke="#2a2a2a" stroke-width="0.85"/>
<path d="M0 0 L-11.5 -4.4" stroke="#fff" stroke-width="4.2"/>
</g>
<g transform="translate(520.5 315.5)">
<ellipse rx="12" ry="6.8" fill="#fff" stroke="#2a2a2a" stroke-width="0.85"/>
<ellipse rx="6.6" ry="3.3" fill="#fff" stroke="#2a2a2a" stroke-width="0.85"/>
<path d="M0 0 L12.1 -3.8" stroke="#fff" stroke-width="4.2"/>
</g>
<g transform="translate(430.0 462.5)">
<ellipse rx="12" ry="6.8" fill="#fff" stroke="#2a2a2a" stroke-width="0.85"/>
<ellipse rx="6.6" ry="3.3" fill="#fff" stroke="#2a2a2a" stroke-width="0.85"/>
<path d="M0 0 L11.5 4.4" stroke="#fff" stroke-width="4.2"/>
</g>
<g transform="translate(159.0 415.5)">
<ellipse rx="12" ry="6.8" fill="#fff" stroke="#2a2a2a" stroke-width="0.85"/>
<ellipse rx="6.6" ry="3.3" fill="#fff" stroke="#2a2a2a" stroke-width="0.85"/>
<path d="M0 0 L-12.1 3.8" stroke="#fff" stroke-width="4.2"/>
</g>
<g transform="translate(534.6 397.8) scale(1 1)">
<path d="M-17 -20 L16 -16 L16 -5 L-17 -8Z" fill="#fff" stroke="#2a2a2a" stroke-width="0.85"/>
<path d="M-26 -3 Q-14 -5 -10 -8 Q0 -10 12 -6 Q17 -2 12 5 Q2 10 -10 6 Q-16 2 -26 3Z" fill="#fff" stroke="#2a2a2a" stroke-width="0.85"/>
<ellipse cx="2" cy="0" rx="7.0" ry="3.9" fill="#fff" stroke="#2a2a2a" stroke-width="1.2"/>
</g>
<g transform="translate(147.0 337.5) scale(-1 1)">
<path d="M-17 -20 L16 -16 L16 -5 L-17 -8Z" fill="#fff" stroke="#2a2a2a" stroke-width="0.85"/>
<path d="M-26 -3 Q-14 -5 -10 -8 Q0 -10 12 -6 Q17 -2 12 5 Q2 10 -10 6 Q-16 2 -26 3Z" fill="#fff" stroke="#2a2a2a" stroke-width="0.85"/>
<ellipse cx="2" cy="0" rx="1.8" ry="1.0" fill="#fff" stroke="#2a2a2a" stroke-width="1.2"/>
</g>
</g>
<ellipse cx="340.00" cy="365.70" rx="165.00" ry="85.90" fill="#fff" stroke="#2a2a2a" stroke-width="1.1" />
<path d="M235.7 326 A104.3 51.7 0 0 0 444.3 326" fill="none" stroke="#2a2a2a" stroke-width="1.2"/>
<g clip-path="url(#gclip)">
<path d="M235.7 326 A104.3 37.5 0 0 1 444.3 326" fill="none" stroke="#2a2a2a" stroke-width="1.0"/>
<g clip-path="url(#hclip)">
<ellipse cx="338.50" cy="276.90" rx="78.50" ry="40.80" fill="none" stroke="#2a2a2a" stroke-width="0.9" />
<ellipse cx="338.50" cy="276.90" rx="77.20" ry="39.30" fill="none" stroke="#2a2a2a" stroke-width="0.9" />
<ellipse cx="338.50" cy="276.90" rx="58.00" ry="24.20" fill="none" stroke="#2a2a2a" stroke-width="0.9" />
<ellipse cx="338.50" cy="276.90" rx="46.00" ry="20.20" fill="none" stroke="#2a2a2a" stroke-width="0.9" />
</g></g>
<path d="M184 96 L167.5 141" fill="none" stroke="#2a2a2a" stroke-width="6.20" stroke-linecap="butt" stroke-linejoin="round" />
<path d="M184 96 L167.5 141" fill="none" stroke="#fff" stroke-width="4.50" stroke-linecap="butt" stroke-linejoin="round" />
<path d="M127 129 L106.5 168 L91.5 233.6 L91.5 274 Q91.8 282.5 99.5 279.3 L140 260.5 Q147 257 147 250 L147.3 207 L161.5 142 L177.5 100" fill="none" stroke="#2a2a2a" stroke-width="6.40" stroke-linecap="butt" stroke-linejoin="round" />
<path d="M127 129 L106.5 168 L91.5 233.6 L91.5 274 Q91.8 282.5 99.5 279.3 L140 260.5 Q147 257 147 250 L147.3 207 L161.5 142 L177.5 100" fill="none" stroke="#fff" stroke-width="4.70" stroke-linecap="butt" stroke-linejoin="round" />
<path d="M106.5 168.0 l6 0" transform="rotate(28 106.5 168.0) translate(-3 0)" stroke="#2a2a2a" stroke-width="0.9"/>
<path d="M91.5 233.6 l6 0" transform="rotate(8 91.5 233.6) translate(-3 0)" stroke="#2a2a2a" stroke-width="0.9"/>
<path d="M147.3 207.0 l6 0" transform="rotate(-6 147.3 207.0) translate(-3 0)" stroke="#2a2a2a" stroke-width="0.9"/>
<path d="M161.5 142.0 l6 0" transform="rotate(-14 161.5 142.0) translate(-3 0)" stroke="#2a2a2a" stroke-width="0.9"/>
<rect x="149" y="681" width="384.5" height="1.8" fill="#707070"/>
<rect x="782.2" y="100.8" width="1.8" height="201.1" fill="#707070"/>
<path d="M307.6 658.5 L301.5 658.5 L301.5 620.6 Q296.5 625.4 289.6 628.2 L289.6 622.4 Q299 617.8 303.7 610.4 L307.6 610.4 Z" fill="#000"/>
<text transform="translate(358.4 659.6) scale(0.963 1)" font-family="Liberation Sans, sans-serif" font-size="71.3" text-anchor="middle" fill="#000">30</text>
<text transform="translate(761.6 201.6) rotate(-90) scale(0.963 1)" font-family="Liberation Sans, sans-serif" font-size="71.3" text-anchor="middle" fill="#000">62</text>
</svg></body></html>
